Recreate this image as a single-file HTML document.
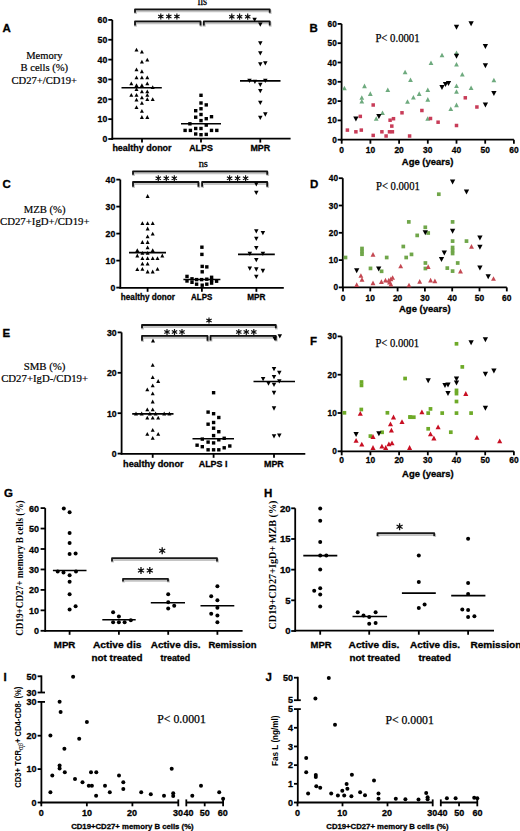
<!DOCTYPE html>
<html><head><meta charset="utf-8"><title>Figure</title>
<style>
html,body{margin:0;padding:0;background:#fff;}
body{width:520px;height:831px;overflow:hidden;}
svg{display:block;}
text{font-kerning:none;}
</style></head><body>
<svg width="520" height="831" viewBox="0 0 520 831">
<rect x="0" y="0" width="520" height="831" fill="#fff"/>
<text x="2.5" y="31.9" font-family="'Liberation Sans', sans-serif" font-size="11.5" font-weight="bold" text-anchor="start" fill="#000" stroke="#000" stroke-width="0.3">A</text>
<text x="44.3" y="58.8" font-family="'Liberation Serif', serif" font-size="11" text-anchor="middle" fill="#000" textLength="36.3" lengthAdjust="spacingAndGlyphs" stroke="#000" stroke-width="0.2">Memory</text>
<text x="44.3" y="71.3" font-family="'Liberation Serif', serif" font-size="11" text-anchor="middle" fill="#000" textLength="47.6" lengthAdjust="spacingAndGlyphs" stroke="#000" stroke-width="0.2">B cells (%)</text>
<text x="44.3" y="83.8" font-family="'Liberation Serif', serif" font-size="11" text-anchor="middle" fill="#000" textLength="65.5" lengthAdjust="spacingAndGlyphs" stroke="#000" stroke-width="0.2">CD27+/CD19+</text>
<line x1="112.3" y1="19.9" x2="112.3" y2="139.9" stroke="#000" stroke-width="1.8"/>
<line x1="108.3" y1="139" x2="112.3" y2="139" stroke="#000" stroke-width="1.8"/>
<text x="107.3" y="142.3" font-family="'Liberation Sans', sans-serif" font-size="9.2" font-weight="bold" text-anchor="end" fill="#000" textLength="4.85" lengthAdjust="spacingAndGlyphs" stroke="#000" stroke-width="0.3">0</text>
<line x1="108.3" y1="119.15" x2="112.3" y2="119.15" stroke="#000" stroke-width="1.8"/>
<text x="107.3" y="122.45" font-family="'Liberation Sans', sans-serif" font-size="9.2" font-weight="bold" text-anchor="end" fill="#000" textLength="9.7" lengthAdjust="spacingAndGlyphs" stroke="#000" stroke-width="0.3">10</text>
<line x1="108.3" y1="99.3" x2="112.3" y2="99.3" stroke="#000" stroke-width="1.8"/>
<text x="107.3" y="102.6" font-family="'Liberation Sans', sans-serif" font-size="9.2" font-weight="bold" text-anchor="end" fill="#000" textLength="9.7" lengthAdjust="spacingAndGlyphs" stroke="#000" stroke-width="0.3">20</text>
<line x1="108.3" y1="79.45" x2="112.3" y2="79.45" stroke="#000" stroke-width="1.8"/>
<text x="107.3" y="82.75" font-family="'Liberation Sans', sans-serif" font-size="9.2" font-weight="bold" text-anchor="end" fill="#000" textLength="9.7" lengthAdjust="spacingAndGlyphs" stroke="#000" stroke-width="0.3">30</text>
<line x1="108.3" y1="59.6" x2="112.3" y2="59.6" stroke="#000" stroke-width="1.8"/>
<text x="107.3" y="62.9" font-family="'Liberation Sans', sans-serif" font-size="9.2" font-weight="bold" text-anchor="end" fill="#000" textLength="9.7" lengthAdjust="spacingAndGlyphs" stroke="#000" stroke-width="0.3">40</text>
<line x1="108.3" y1="39.75" x2="112.3" y2="39.75" stroke="#000" stroke-width="1.8"/>
<text x="107.3" y="43.05" font-family="'Liberation Sans', sans-serif" font-size="9.2" font-weight="bold" text-anchor="end" fill="#000" textLength="9.7" lengthAdjust="spacingAndGlyphs" stroke="#000" stroke-width="0.3">50</text>
<line x1="108.3" y1="19.9" x2="112.3" y2="19.9" stroke="#000" stroke-width="1.8"/>
<text x="107.3" y="23.2" font-family="'Liberation Sans', sans-serif" font-size="9.2" font-weight="bold" text-anchor="end" fill="#000" textLength="9.7" lengthAdjust="spacingAndGlyphs" stroke="#000" stroke-width="0.3">60</text>
<line x1="111.4" y1="138.6" x2="290.6" y2="138.6" stroke="#000" stroke-width="1.8"/>
<line x1="142" y1="138.6" x2="142" y2="142.6" stroke="#000" stroke-width="1.8"/>
<line x1="201" y1="138.6" x2="201" y2="142.6" stroke="#000" stroke-width="1.8"/>
<line x1="260.3" y1="138.6" x2="260.3" y2="142.6" stroke="#000" stroke-width="1.8"/>
<text x="142" y="150.8" font-family="'Liberation Sans', sans-serif" font-size="9" font-weight="bold" text-anchor="middle" fill="#000" textLength="59.2" lengthAdjust="spacingAndGlyphs" stroke="#000" stroke-width="0.3">healthy donor</text>
<text x="201" y="150.8" font-family="'Liberation Sans', sans-serif" font-size="9" font-weight="bold" text-anchor="middle" fill="#000" textLength="23.6" lengthAdjust="spacingAndGlyphs" stroke="#000" stroke-width="0.3">ALPS</text>
<text x="260.3" y="150.8" font-family="'Liberation Sans', sans-serif" font-size="9" font-weight="bold" text-anchor="middle" fill="#000" textLength="19.8" lengthAdjust="spacingAndGlyphs" stroke="#000" stroke-width="0.3">MPR</text>
<path d="M135.6,14 V10.9 H270.3 V14" fill="none" stroke="#c4c4c4" stroke-width="2.6" stroke-linejoin="round"/>
<path d="M135,12.8 V9.3 H269.7 V12.8" fill="none" stroke="#111" stroke-width="1.8" stroke-linejoin="round"/>
<path d="M135.6,26.7 V22.9 H201.1 V26.7" fill="none" stroke="#c4c4c4" stroke-width="2.6" stroke-linejoin="round"/>
<path d="M135,25.5 V21.3 H200.5 V25.5" fill="none" stroke="#111" stroke-width="1.8" stroke-linejoin="round"/>
<path d="M204.4,26.7 V22.9 H270.3 V26.7" fill="none" stroke="#c4c4c4" stroke-width="2.6" stroke-linejoin="round"/>
<path d="M203.8,25.5 V21.3 H269.7 V25.5" fill="none" stroke="#111" stroke-width="1.8" stroke-linejoin="round"/>
<text x="202.4" y="5.1" font-family="'Liberation Serif', serif" font-size="11.6" text-anchor="middle" fill="#000" textLength="9.2" lengthAdjust="spacingAndGlyphs" stroke="#000" stroke-width="0.3">ns</text>
<path d="M160.8,13.4 L160.8,19.6 M163.48,14.95 L158.12,18.05 M163.48,18.05 L158.12,14.95 " stroke="#111" stroke-width="1.15" stroke-linecap="butt"/>
<circle cx="160.8" cy="16.5" r="1.24" fill="#111"/>
<path d="M168.8,13.4 L168.8,19.6 M171.48,14.95 L166.12,18.05 M171.48,18.05 L166.12,14.95 " stroke="#111" stroke-width="1.15" stroke-linecap="butt"/>
<circle cx="168.8" cy="16.5" r="1.24" fill="#111"/>
<path d="M176.9,13.4 L176.9,19.6 M179.58,14.95 L174.22,18.05 M179.58,18.05 L174.22,14.95 " stroke="#111" stroke-width="1.15" stroke-linecap="butt"/>
<circle cx="176.9" cy="16.5" r="1.24" fill="#111"/>
<path d="M231.8,13.6 L231.8,19.8 M234.48,15.15 L229.12,18.25 M234.48,18.25 L229.12,15.15 " stroke="#111" stroke-width="1.15" stroke-linecap="butt"/>
<circle cx="231.8" cy="16.7" r="1.24" fill="#111"/>
<path d="M239.6,13.6 L239.6,19.8 M242.28,15.15 L236.92,18.25 M242.28,18.25 L236.92,15.15 " stroke="#111" stroke-width="1.15" stroke-linecap="butt"/>
<circle cx="239.6" cy="16.7" r="1.24" fill="#111"/>
<path d="M247.7,13.6 L247.7,19.8 M250.38,15.15 L245.02,18.25 M250.38,18.25 L245.02,15.15 " stroke="#111" stroke-width="1.15" stroke-linecap="butt"/>
<circle cx="247.7" cy="16.7" r="1.24" fill="#111"/>
<polygon points="134.5,51.5 138.5,51.5 136.5,47.7" fill="#000"/>
<polygon points="139.9,53.6 143.9,53.6 141.9,49.8" fill="#000"/>
<polygon points="145.3,61.6 149.3,61.6 147.3,57.8" fill="#000"/>
<polygon points="139.9,63.5 143.9,63.5 141.9,59.7" fill="#000"/>
<polygon points="134.5,71.2 138.5,71.2 136.5,67.4" fill="#000"/>
<polygon points="139.9,73.15 143.9,73.15 141.9,69.35" fill="#000"/>
<polygon points="134.5,79.2 138.5,79.2 136.5,75.4" fill="#000"/>
<polygon points="139.9,79.2 143.9,79.2 141.9,75.4" fill="#000"/>
<polygon points="145.3,79.2 149.3,79.2 147.3,75.4" fill="#000"/>
<polygon points="129.3,85.2 133.3,85.2 131.3,81.4" fill="#000"/>
<polygon points="145.3,85.2 149.3,85.2 147.3,81.4" fill="#000"/>
<polygon points="134.5,87.1 138.5,87.1 136.5,83.3" fill="#000"/>
<polygon points="139.9,87.1 143.9,87.1 141.9,83.3" fill="#000"/>
<polygon points="150.7,89 154.7,89 152.7,85.2" fill="#000"/>
<polygon points="134.5,91 138.5,91 136.5,87.2" fill="#000"/>
<polygon points="139.9,93.2 143.9,93.2 141.9,89.4" fill="#000"/>
<polygon points="145.3,93.2 149.3,93.2 147.3,89.4" fill="#000"/>
<polygon points="129.3,96.8 133.3,96.8 131.3,93" fill="#000"/>
<polygon points="134.5,96.8 138.5,96.8 136.5,93" fill="#000"/>
<polygon points="145.3,96.8 149.3,96.8 147.3,93" fill="#000"/>
<polygon points="139.9,99.2 143.9,99.2 141.9,95.4" fill="#000"/>
<polygon points="134.5,101.6 138.5,101.6 136.5,97.8" fill="#000"/>
<polygon points="145.3,101.1 149.3,101.1 147.3,97.3" fill="#000"/>
<polygon points="150.7,101.1 154.7,101.1 152.7,97.3" fill="#000"/>
<polygon points="139.9,104.8 143.9,104.8 141.9,101" fill="#000"/>
<polygon points="134.5,109.1 138.5,109.1 136.5,105.3" fill="#000"/>
<polygon points="139.9,112.7 143.9,112.7 141.9,108.9" fill="#000"/>
<polygon points="139.9,118.9 143.9,118.9 141.9,115.1" fill="#000"/>
<polygon points="145.3,118.9 149.3,118.9 147.3,115.1" fill="#000"/>
<line x1="121.5" y1="87.8" x2="161.8" y2="87.8" stroke="#000" stroke-width="1.6"/>
<rect x="199.3" y="93.6" width="3.4" height="3.4" fill="#000"/>
<rect x="199.3" y="101.3" width="3.4" height="3.4" fill="#000"/>
<rect x="204.55" y="103.2" width="3.4" height="3.4" fill="#000"/>
<rect x="194" y="109" width="3.4" height="3.4" fill="#000"/>
<rect x="199.3" y="107.05" width="3.4" height="3.4" fill="#000"/>
<rect x="199.3" y="112.8" width="3.4" height="3.4" fill="#000"/>
<rect x="209.8" y="115" width="3.4" height="3.4" fill="#000"/>
<rect x="194" y="115.5" width="3.4" height="3.4" fill="#000"/>
<rect x="204.55" y="117" width="3.4" height="3.4" fill="#000"/>
<rect x="199.3" y="118.9" width="3.4" height="3.4" fill="#000"/>
<rect x="188.2" y="122.1" width="3.4" height="3.4" fill="#000"/>
<rect x="204.55" y="123.4" width="3.4" height="3.4" fill="#000"/>
<rect x="183.4" y="128.7" width="3.4" height="3.4" fill="#000"/>
<rect x="188.7" y="128.7" width="3.4" height="3.4" fill="#000"/>
<rect x="194" y="126.8" width="3.4" height="3.4" fill="#000"/>
<rect x="199.3" y="126.8" width="3.4" height="3.4" fill="#000"/>
<rect x="209.8" y="128.7" width="3.4" height="3.4" fill="#000"/>
<rect x="215.1" y="128.7" width="3.4" height="3.4" fill="#000"/>
<rect x="194" y="132.3" width="3.4" height="3.4" fill="#000"/>
<rect x="199.3" y="133" width="3.4" height="3.4" fill="#000"/>
<rect x="204.55" y="132.7" width="3.4" height="3.4" fill="#000"/>
<line x1="181" y1="123.8" x2="221" y2="123.8" stroke="#000" stroke-width="1.6"/>
<polygon points="252.35,17.76 256.85,17.76 254.6,22.04" fill="#000"/>
<polygon points="258.05,22.46 262.55,22.46 260.3,26.74" fill="#000"/>
<polygon points="258.05,41.26 262.55,41.26 260.3,45.54" fill="#000"/>
<polygon points="258.05,51.16 262.55,51.16 260.3,55.44" fill="#000"/>
<polygon points="258.05,62.26 262.55,62.26 260.3,66.54" fill="#000"/>
<polygon points="263.05,61.16 267.55,61.16 265.3,65.44" fill="#000"/>
<polygon points="247.25,78.76 251.75,78.76 249.5,83.04" fill="#000"/>
<polygon points="252.65,79.66 257.15,79.66 254.9,83.94" fill="#000"/>
<polygon points="263.05,78.76 267.55,78.76 265.3,83.04" fill="#000"/>
<polygon points="258.05,82.76 262.55,82.76 260.3,87.04" fill="#000"/>
<polygon points="258.05,89.06 262.55,89.06 260.3,93.34" fill="#000"/>
<polygon points="258.05,100.66 262.55,100.66 260.3,104.94" fill="#000"/>
<polygon points="263.05,112.36 267.55,112.36 265.3,116.64" fill="#000"/>
<polygon points="258.05,115.76 262.55,115.76 260.3,120.04" fill="#000"/>
<line x1="240" y1="80.9" x2="280.5" y2="80.9" stroke="#000" stroke-width="1.6"/>
<text x="309.6" y="32.3" font-family="'Liberation Sans', sans-serif" font-size="11.5" font-weight="bold" text-anchor="start" fill="#000" stroke="#000" stroke-width="0.3">B</text>
<line x1="341.6" y1="23.9" x2="341.6" y2="140.6" stroke="#000" stroke-width="1.8"/>
<line x1="337.6" y1="139.7" x2="341.6" y2="139.7" stroke="#000" stroke-width="1.8"/>
<text x="336.8" y="142.7" font-family="'Liberation Sans', sans-serif" font-size="9.3" font-weight="bold" text-anchor="end" fill="#000" textLength="4.6" lengthAdjust="spacingAndGlyphs" stroke="#000" stroke-width="0.3">0</text>
<line x1="337.6" y1="120.4" x2="341.6" y2="120.4" stroke="#000" stroke-width="1.8"/>
<text x="336.8" y="123.4" font-family="'Liberation Sans', sans-serif" font-size="9.3" font-weight="bold" text-anchor="end" fill="#000" textLength="9.2" lengthAdjust="spacingAndGlyphs" stroke="#000" stroke-width="0.3">10</text>
<line x1="337.6" y1="101.1" x2="341.6" y2="101.1" stroke="#000" stroke-width="1.8"/>
<text x="336.8" y="104.1" font-family="'Liberation Sans', sans-serif" font-size="9.3" font-weight="bold" text-anchor="end" fill="#000" textLength="9.2" lengthAdjust="spacingAndGlyphs" stroke="#000" stroke-width="0.3">20</text>
<line x1="337.6" y1="81.8" x2="341.6" y2="81.8" stroke="#000" stroke-width="1.8"/>
<text x="336.8" y="84.8" font-family="'Liberation Sans', sans-serif" font-size="9.3" font-weight="bold" text-anchor="end" fill="#000" textLength="9.2" lengthAdjust="spacingAndGlyphs" stroke="#000" stroke-width="0.3">30</text>
<line x1="337.6" y1="62.5" x2="341.6" y2="62.5" stroke="#000" stroke-width="1.8"/>
<text x="336.8" y="65.5" font-family="'Liberation Sans', sans-serif" font-size="9.3" font-weight="bold" text-anchor="end" fill="#000" textLength="9.2" lengthAdjust="spacingAndGlyphs" stroke="#000" stroke-width="0.3">40</text>
<line x1="337.6" y1="43.2" x2="341.6" y2="43.2" stroke="#000" stroke-width="1.8"/>
<text x="336.8" y="46.2" font-family="'Liberation Sans', sans-serif" font-size="9.3" font-weight="bold" text-anchor="end" fill="#000" textLength="9.2" lengthAdjust="spacingAndGlyphs" stroke="#000" stroke-width="0.3">50</text>
<line x1="337.6" y1="23.9" x2="341.6" y2="23.9" stroke="#000" stroke-width="1.8"/>
<text x="336.8" y="26.9" font-family="'Liberation Sans', sans-serif" font-size="9.3" font-weight="bold" text-anchor="end" fill="#000" textLength="9.2" lengthAdjust="spacingAndGlyphs" stroke="#000" stroke-width="0.3">60</text>
<line x1="340.7" y1="139.7" x2="513.9" y2="139.7" stroke="#000" stroke-width="1.8"/>
<line x1="341.7" y1="139.7" x2="341.7" y2="143.7" stroke="#000" stroke-width="1.8"/>
<line x1="370.4" y1="139.7" x2="370.4" y2="143.7" stroke="#000" stroke-width="1.8"/>
<line x1="399.1" y1="139.7" x2="399.1" y2="143.7" stroke="#000" stroke-width="1.8"/>
<line x1="427.8" y1="139.7" x2="427.8" y2="143.7" stroke="#000" stroke-width="1.8"/>
<line x1="456.5" y1="139.7" x2="456.5" y2="143.7" stroke="#000" stroke-width="1.8"/>
<line x1="485.2" y1="139.7" x2="485.2" y2="143.7" stroke="#000" stroke-width="1.8"/>
<line x1="513.9" y1="139.7" x2="513.9" y2="143.7" stroke="#000" stroke-width="1.8"/>
<text x="341.7" y="152.8" font-family="'Liberation Sans', sans-serif" font-size="9.5" font-weight="bold" text-anchor="middle" fill="#000" textLength="4.7" lengthAdjust="spacingAndGlyphs" stroke="#000" stroke-width="0.3">0</text>
<text x="370.4" y="152.8" font-family="'Liberation Sans', sans-serif" font-size="9.5" font-weight="bold" text-anchor="middle" fill="#000" textLength="9.4" lengthAdjust="spacingAndGlyphs" stroke="#000" stroke-width="0.3">10</text>
<text x="399.1" y="152.8" font-family="'Liberation Sans', sans-serif" font-size="9.5" font-weight="bold" text-anchor="middle" fill="#000" textLength="9.4" lengthAdjust="spacingAndGlyphs" stroke="#000" stroke-width="0.3">20</text>
<text x="427.8" y="152.8" font-family="'Liberation Sans', sans-serif" font-size="9.5" font-weight="bold" text-anchor="middle" fill="#000" textLength="9.4" lengthAdjust="spacingAndGlyphs" stroke="#000" stroke-width="0.3">30</text>
<text x="456.5" y="152.8" font-family="'Liberation Sans', sans-serif" font-size="9.5" font-weight="bold" text-anchor="middle" fill="#000" textLength="9.4" lengthAdjust="spacingAndGlyphs" stroke="#000" stroke-width="0.3">40</text>
<text x="485.2" y="152.8" font-family="'Liberation Sans', sans-serif" font-size="9.5" font-weight="bold" text-anchor="middle" fill="#000" textLength="9.4" lengthAdjust="spacingAndGlyphs" stroke="#000" stroke-width="0.3">50</text>
<text x="513.9" y="152.8" font-family="'Liberation Sans', sans-serif" font-size="9.5" font-weight="bold" text-anchor="middle" fill="#000" textLength="9.4" lengthAdjust="spacingAndGlyphs" stroke="#000" stroke-width="0.3">60</text>
<text x="427.6" y="164.8" font-family="'Liberation Sans', sans-serif" font-size="9.6" font-weight="bold" text-anchor="middle" fill="#000" textLength="51.6" lengthAdjust="spacingAndGlyphs" stroke="#000" stroke-width="0.3">Age (years)</text>
<text x="375.4" y="42.3" font-family="'Liberation Serif', serif" font-size="11.8" text-anchor="start" fill="#000" textLength="44.2" lengthAdjust="spacingAndGlyphs" stroke="#000" stroke-width="0.25">P&lt; 0.0001</text>
<polygon points="342,90.28 346.8,90.28 344.4,85.72" fill="#6eaa7e"/>
<polygon points="362.1,88.18 366.9,88.18 364.5,83.62" fill="#6eaa7e"/>
<polygon points="359.4,99.78 364.2,99.78 361.8,95.22" fill="#6eaa7e"/>
<polygon points="359.4,103.58 364.2,103.58 361.8,99.02" fill="#6eaa7e"/>
<polygon points="367.9,95.88 372.7,95.88 370.3,91.32" fill="#6eaa7e"/>
<polygon points="385.4,92.08 390.2,92.08 387.8,87.52" fill="#6eaa7e"/>
<polygon points="405.1,103.78 409.9,103.78 407.5,99.22" fill="#6eaa7e"/>
<polygon points="380.1,115.08 384.9,115.08 382.5,110.52" fill="#6eaa7e"/>
<polygon points="373.8,120.78 378.6,120.78 376.2,116.22" fill="#6eaa7e"/>
<polygon points="439.6,57.28 444.4,57.28 442,52.72" fill="#6eaa7e"/>
<polygon points="454.1,54.98 458.9,54.98 456.5,50.42" fill="#6eaa7e"/>
<polygon points="428.6,65.08 433.4,65.08 431,60.52" fill="#6eaa7e"/>
<polygon points="454.1,66.48 458.9,66.48 456.5,61.92" fill="#6eaa7e"/>
<polygon points="402.7,74.28 407.5,74.28 405.1,69.72" fill="#6eaa7e"/>
<polygon points="459.9,76.48 464.7,76.48 462.3,71.92" fill="#6eaa7e"/>
<polygon points="408.1,82.08 412.9,82.08 410.5,77.52" fill="#6eaa7e"/>
<polygon points="491.5,82.28 496.3,82.28 493.9,77.72" fill="#6eaa7e"/>
<polygon points="454.1,88.08 458.9,88.08 456.5,83.52" fill="#6eaa7e"/>
<polygon points="468.7,90.08 473.5,90.08 471.1,85.52" fill="#6eaa7e"/>
<polygon points="425.4,92.08 430.2,92.08 427.8,87.52" fill="#6eaa7e"/>
<polygon points="416.8,95.88 421.6,95.88 419.2,91.32" fill="#6eaa7e"/>
<polygon points="411,99.58 415.8,99.58 413.4,95.02" fill="#6eaa7e"/>
<polygon points="425.4,101.68 430.2,101.68 427.8,97.12" fill="#6eaa7e"/>
<polygon points="454.1,93.78 458.9,93.78 456.5,89.22" fill="#6eaa7e"/>
<polygon points="454.1,107.18 458.9,107.18 456.5,102.62" fill="#6eaa7e"/>
<polygon points="448.4,111.08 453.2,111.08 450.8,106.52" fill="#6eaa7e"/>
<polygon points="425.3,120.78 430.1,120.78 427.7,116.22" fill="#6eaa7e"/>
<rect x="345.65" y="128.35" width="3.5" height="3.5" fill="#c83c58"/>
<rect x="354.15" y="130.05" width="3.5" height="3.5" fill="#c83c58"/>
<rect x="359.55" y="128.35" width="3.5" height="3.5" fill="#c83c58"/>
<rect x="358.55" y="114.65" width="3.5" height="3.5" fill="#c83c58"/>
<rect x="371.45" y="103.25" width="3.5" height="3.5" fill="#c83c58"/>
<rect x="371.45" y="133.65" width="3.5" height="3.5" fill="#c83c58"/>
<rect x="380.15" y="130.05" width="3.5" height="3.5" fill="#c83c58"/>
<rect x="384.35" y="134.25" width="3.5" height="3.5" fill="#c83c58"/>
<rect x="388.35" y="118.45" width="3.5" height="3.5" fill="#c83c58"/>
<rect x="391.75" y="116.95" width="3.5" height="3.5" fill="#c83c58"/>
<rect x="390.05" y="124.35" width="3.5" height="3.5" fill="#c83c58"/>
<rect x="387.75" y="130.05" width="3.5" height="3.5" fill="#c83c58"/>
<rect x="390.65" y="130.05" width="3.5" height="3.5" fill="#c83c58"/>
<rect x="400.25" y="111.05" width="3.5" height="3.5" fill="#c83c58"/>
<rect x="407.85" y="134.25" width="3.5" height="3.5" fill="#c83c58"/>
<rect x="420.15" y="108.75" width="3.5" height="3.5" fill="#c83c58"/>
<rect x="463.55" y="96.05" width="3.5" height="3.5" fill="#c83c58"/>
<rect x="475.15" y="105.25" width="3.5" height="3.5" fill="#c83c58"/>
<rect x="428.75" y="116.75" width="3.5" height="3.5" fill="#c83c58"/>
<rect x="436.35" y="120.45" width="3.5" height="3.5" fill="#c83c58"/>
<rect x="454.75" y="123.75" width="3.5" height="3.5" fill="#c83c58"/>
<polygon points="353.25,116.58 358.55,116.58 355.9,121.62" fill="#000"/>
<polygon points="376.25,113.88 381.55,113.88 378.9,118.92" fill="#000"/>
<polygon points="453.85,24.78 459.15,24.78 456.5,29.82" fill="#000"/>
<polygon points="468.45,21.28 473.75,21.28 471.1,26.32" fill="#000"/>
<polygon points="482.75,43.98 488.05,43.98 485.4,49.02" fill="#000"/>
<polygon points="453.85,53.68 459.15,53.68 456.5,58.72" fill="#000"/>
<polygon points="482.75,63.28 488.05,63.28 485.4,68.32" fill="#000"/>
<polygon points="439.35,84.98 444.65,84.98 442,90.02" fill="#000"/>
<polygon points="442.85,82.08 448.15,82.08 445.5,87.12" fill="#000"/>
<polygon points="445.85,80.88 451.15,80.88 448.5,85.92" fill="#000"/>
<polygon points="491.25,90.88 496.55,90.88 493.9,95.92" fill="#000"/>
<polygon points="482.75,102.38 488.05,102.38 485.4,107.42" fill="#000"/>
<text x="2.5" y="188.2" font-family="'Liberation Sans', sans-serif" font-size="11.5" font-weight="bold" text-anchor="start" fill="#000" stroke="#000" stroke-width="0.3">C</text>
<text x="44.6" y="212.9" font-family="'Liberation Serif', serif" font-size="11" text-anchor="middle" fill="#000" textLength="41.8" lengthAdjust="spacingAndGlyphs" stroke="#000" stroke-width="0.2">MZB (%)</text>
<text x="44.75" y="225" font-family="'Liberation Serif', serif" font-size="11" text-anchor="middle" fill="#000" textLength="89.5" lengthAdjust="spacingAndGlyphs" stroke="#000" stroke-width="0.2">CD27+IgD+/CD19+</text>
<line x1="120.3" y1="179.6" x2="120.3" y2="288.5" stroke="#000" stroke-width="1.8"/>
<line x1="116.3" y1="287.6" x2="120.3" y2="287.6" stroke="#000" stroke-width="1.8"/>
<text x="115.3" y="290.9" font-family="'Liberation Sans', sans-serif" font-size="9.2" font-weight="bold" text-anchor="end" fill="#000" textLength="4.85" lengthAdjust="spacingAndGlyphs" stroke="#000" stroke-width="0.3">0</text>
<line x1="116.3" y1="260.6" x2="120.3" y2="260.6" stroke="#000" stroke-width="1.8"/>
<text x="115.3" y="263.9" font-family="'Liberation Sans', sans-serif" font-size="9.2" font-weight="bold" text-anchor="end" fill="#000" textLength="9.7" lengthAdjust="spacingAndGlyphs" stroke="#000" stroke-width="0.3">10</text>
<line x1="116.3" y1="233.6" x2="120.3" y2="233.6" stroke="#000" stroke-width="1.8"/>
<text x="115.3" y="236.9" font-family="'Liberation Sans', sans-serif" font-size="9.2" font-weight="bold" text-anchor="end" fill="#000" textLength="9.7" lengthAdjust="spacingAndGlyphs" stroke="#000" stroke-width="0.3">20</text>
<line x1="116.3" y1="206.6" x2="120.3" y2="206.6" stroke="#000" stroke-width="1.8"/>
<text x="115.3" y="209.9" font-family="'Liberation Sans', sans-serif" font-size="9.2" font-weight="bold" text-anchor="end" fill="#000" textLength="9.7" lengthAdjust="spacingAndGlyphs" stroke="#000" stroke-width="0.3">30</text>
<line x1="116.3" y1="179.6" x2="120.3" y2="179.6" stroke="#000" stroke-width="1.8"/>
<text x="115.3" y="182.9" font-family="'Liberation Sans', sans-serif" font-size="9.2" font-weight="bold" text-anchor="end" fill="#000" textLength="9.7" lengthAdjust="spacingAndGlyphs" stroke="#000" stroke-width="0.3">40</text>
<line x1="119.4" y1="287.8" x2="283.8" y2="287.8" stroke="#000" stroke-width="1.8"/>
<line x1="147.6" y1="287.8" x2="147.6" y2="291.8" stroke="#000" stroke-width="1.8"/>
<line x1="201.9" y1="287.8" x2="201.9" y2="291.8" stroke="#000" stroke-width="1.8"/>
<line x1="256.4" y1="287.8" x2="256.4" y2="291.8" stroke="#000" stroke-width="1.8"/>
<text x="147.85" y="300.4" font-family="'Liberation Sans', sans-serif" font-size="9" font-weight="bold" text-anchor="middle" fill="#000" textLength="54.1" lengthAdjust="spacingAndGlyphs" stroke="#000" stroke-width="0.3">healthy donor</text>
<text x="201.7" y="300.2" font-family="'Liberation Sans', sans-serif" font-size="9" font-weight="bold" text-anchor="middle" fill="#000" textLength="21.2" lengthAdjust="spacingAndGlyphs" stroke="#000" stroke-width="0.3">ALPS</text>
<text x="256.4" y="300.2" font-family="'Liberation Sans', sans-serif" font-size="9" font-weight="bold" text-anchor="middle" fill="#000" textLength="18.2" lengthAdjust="spacingAndGlyphs" stroke="#000" stroke-width="0.3">MPR</text>
<path d="M133.6,176 V172.9 H267.8 V176" fill="none" stroke="#c4c4c4" stroke-width="2.6" stroke-linejoin="round"/>
<path d="M133,174.8 V171.3 H267.2 V174.8" fill="none" stroke="#111" stroke-width="1.8" stroke-linejoin="round"/>
<path d="M133.6,188 V183.6 H199 V188" fill="none" stroke="#c4c4c4" stroke-width="2.6" stroke-linejoin="round"/>
<path d="M133,186.8 V182 H198.4 V186.8" fill="none" stroke="#111" stroke-width="1.8" stroke-linejoin="round"/>
<path d="M202.7,188 V183.6 H267.8 V188" fill="none" stroke="#c4c4c4" stroke-width="2.6" stroke-linejoin="round"/>
<path d="M202.1,186.8 V182 H267.2 V186.8" fill="none" stroke="#111" stroke-width="1.8" stroke-linejoin="round"/>
<text x="203.3" y="167.2" font-family="'Liberation Serif', serif" font-size="11" text-anchor="middle" fill="#000" textLength="9.3" lengthAdjust="spacingAndGlyphs" stroke="#000" stroke-width="0.3">ns</text>
<path d="M158.3,175.2 L158.3,181.4 M160.98,176.75 L155.62,179.85 M160.98,179.85 L155.62,176.75 " stroke="#111" stroke-width="1.15" stroke-linecap="butt"/>
<circle cx="158.3" cy="178.3" r="1.24" fill="#111"/>
<path d="M166.3,175.2 L166.3,181.4 M168.98,176.75 L163.62,179.85 M168.98,179.85 L163.62,176.75 " stroke="#111" stroke-width="1.15" stroke-linecap="butt"/>
<circle cx="166.3" cy="178.3" r="1.24" fill="#111"/>
<path d="M174.3,175.2 L174.3,181.4 M176.98,176.75 L171.62,179.85 M176.98,179.85 L171.62,176.75 " stroke="#111" stroke-width="1.15" stroke-linecap="butt"/>
<circle cx="174.3" cy="178.3" r="1.24" fill="#111"/>
<path d="M229.6,175.2 L229.6,181.4 M232.28,176.75 L226.92,179.85 M232.28,179.85 L226.92,176.75 " stroke="#111" stroke-width="1.15" stroke-linecap="butt"/>
<circle cx="229.6" cy="178.3" r="1.24" fill="#111"/>
<path d="M237.6,175.2 L237.6,181.4 M240.28,176.75 L234.92,179.85 M240.28,179.85 L234.92,176.75 " stroke="#111" stroke-width="1.15" stroke-linecap="butt"/>
<circle cx="237.6" cy="178.3" r="1.24" fill="#111"/>
<path d="M245.6,175.2 L245.6,181.4 M248.28,176.75 L242.92,179.85 M248.28,179.85 L242.92,176.75 " stroke="#111" stroke-width="1.15" stroke-linecap="butt"/>
<circle cx="245.6" cy="178.3" r="1.24" fill="#111"/>
<polygon points="145.6,197.9 149.6,197.9 147.6,194.1" fill="#000"/>
<polygon points="140.4,225.1 144.4,225.1 142.4,221.3" fill="#000"/>
<polygon points="145.6,225.1 149.6,225.1 147.6,221.3" fill="#000"/>
<polygon points="150.7,225.1 154.7,225.1 152.7,221.3" fill="#000"/>
<polygon points="145.6,230.4 149.6,230.4 147.6,226.6" fill="#000"/>
<polygon points="150.7,235.6 154.7,235.6 152.7,231.8" fill="#000"/>
<polygon points="145.6,238.3 149.6,238.3 147.6,234.5" fill="#000"/>
<polygon points="140.4,243.9 144.4,243.9 142.4,240.1" fill="#000"/>
<polygon points="145.6,243.9 149.6,243.9 147.6,240.1" fill="#000"/>
<polygon points="145.6,249.2 149.6,249.2 147.6,245.4" fill="#000"/>
<polygon points="135.3,252.1 139.3,252.1 137.3,248.3" fill="#000"/>
<polygon points="150.7,252.1 154.7,252.1 152.7,248.3" fill="#000"/>
<polygon points="140.4,254.8 144.4,254.8 142.4,251" fill="#000"/>
<polygon points="145.6,254.8 149.6,254.8 147.6,251" fill="#000"/>
<polygon points="135.3,257.4 139.3,257.4 137.3,253.6" fill="#000"/>
<polygon points="160.3,257.4 164.3,257.4 162.3,253.6" fill="#000"/>
<polygon points="140.4,260.1 144.4,260.1 142.4,256.3" fill="#000"/>
<polygon points="145.6,260.1 149.6,260.1 147.6,256.3" fill="#000"/>
<polygon points="150.7,260.1 154.7,260.1 152.7,256.3" fill="#000"/>
<polygon points="155.5,260.1 159.5,260.1 157.5,256.3" fill="#000"/>
<polygon points="140.4,265.6 144.4,265.6 142.4,261.8" fill="#000"/>
<polygon points="145.6,265.6 149.6,265.6 147.6,261.8" fill="#000"/>
<polygon points="135.3,271.1 139.3,271.1 137.3,267.3" fill="#000"/>
<polygon points="140.4,270.8 144.4,270.8 142.4,267" fill="#000"/>
<polygon points="155.5,270.8 159.5,270.8 157.5,267" fill="#000"/>
<polygon points="145.6,273.4 149.6,273.4 147.6,269.6" fill="#000"/>
<polygon points="150.7,273.4 154.7,273.4 152.7,269.6" fill="#000"/>
<line x1="129" y1="252.6" x2="166" y2="252.6" stroke="#000" stroke-width="1.6"/>
<rect x="200.2" y="245.5" width="3.4" height="3.4" fill="#000"/>
<rect x="200.2" y="252.7" width="3.4" height="3.4" fill="#000"/>
<rect x="200.5" y="264.7" width="3.4" height="3.4" fill="#000"/>
<rect x="205.1" y="265.2" width="3.4" height="3.4" fill="#000"/>
<rect x="200.5" y="270.1" width="3.4" height="3.4" fill="#000"/>
<rect x="185.3" y="274.7" width="3.4" height="3.4" fill="#000"/>
<rect x="209.9" y="275.6" width="3.4" height="3.4" fill="#000"/>
<rect x="185.3" y="279.3" width="3.4" height="3.4" fill="#000"/>
<rect x="190.3" y="277.1" width="3.4" height="3.4" fill="#000"/>
<rect x="190.3" y="280.6" width="3.4" height="3.4" fill="#000"/>
<rect x="194.9" y="277.9" width="3.4" height="3.4" fill="#000"/>
<rect x="199.9" y="277.9" width="3.4" height="3.4" fill="#000"/>
<rect x="205.1" y="277.5" width="3.4" height="3.4" fill="#000"/>
<rect x="209.9" y="278.7" width="3.4" height="3.4" fill="#000"/>
<rect x="214.9" y="279.5" width="3.4" height="3.4" fill="#000"/>
<rect x="194.9" y="282.5" width="3.4" height="3.4" fill="#000"/>
<rect x="200.5" y="283.5" width="3.4" height="3.4" fill="#000"/>
<rect x="205.1" y="282.5" width="3.4" height="3.4" fill="#000"/>
<rect x="209.9" y="281.4" width="3.4" height="3.4" fill="#000"/>
<line x1="183.4" y1="279.5" x2="220.4" y2="279.5" stroke="#000" stroke-width="1.6"/>
<polygon points="254.05,182.26 258.55,182.26 256.3,186.54" fill="#000"/>
<polygon points="254.05,190.76 258.55,190.76 256.3,195.04" fill="#000"/>
<polygon points="254.05,229.16 258.55,229.16 256.3,233.44" fill="#000"/>
<polygon points="260.65,230.96 265.15,230.96 262.9,235.24" fill="#000"/>
<polygon points="254.05,236.66 258.55,236.66 256.3,240.94" fill="#000"/>
<polygon points="254.05,245.96 258.55,245.96 256.3,250.24" fill="#000"/>
<polygon points="247.55,251.66 252.05,251.66 249.8,255.94" fill="#000"/>
<polygon points="260.65,251.66 265.15,251.66 262.9,255.94" fill="#000"/>
<polygon points="254.05,258.06 258.55,258.06 256.3,262.34" fill="#000"/>
<polygon points="247.55,266.46 252.05,266.46 249.8,270.74" fill="#000"/>
<polygon points="254.05,267.36 258.55,267.36 256.3,271.64" fill="#000"/>
<polygon points="260.65,268.86 265.15,268.86 262.9,273.14" fill="#000"/>
<polygon points="254.05,274.76 258.55,274.76 256.3,279.04" fill="#000"/>
<line x1="238" y1="254.4" x2="274.8" y2="254.4" stroke="#000" stroke-width="1.6"/>
<text x="310" y="187.9" font-family="'Liberation Sans', sans-serif" font-size="11.5" font-weight="bold" text-anchor="start" fill="#000" stroke="#000" stroke-width="0.3">D</text>
<line x1="342.8" y1="178.2" x2="342.8" y2="288.3" stroke="#000" stroke-width="1.8"/>
<line x1="338.8" y1="287.4" x2="342.8" y2="287.4" stroke="#000" stroke-width="1.8"/>
<text x="338" y="290.4" font-family="'Liberation Sans', sans-serif" font-size="9.3" font-weight="bold" text-anchor="end" fill="#000" textLength="4.6" lengthAdjust="spacingAndGlyphs" stroke="#000" stroke-width="0.3">0</text>
<line x1="338.8" y1="260.1" x2="342.8" y2="260.1" stroke="#000" stroke-width="1.8"/>
<text x="338" y="263.1" font-family="'Liberation Sans', sans-serif" font-size="9.3" font-weight="bold" text-anchor="end" fill="#000" textLength="9.2" lengthAdjust="spacingAndGlyphs" stroke="#000" stroke-width="0.3">10</text>
<line x1="338.8" y1="232.8" x2="342.8" y2="232.8" stroke="#000" stroke-width="1.8"/>
<text x="338" y="235.8" font-family="'Liberation Sans', sans-serif" font-size="9.3" font-weight="bold" text-anchor="end" fill="#000" textLength="9.2" lengthAdjust="spacingAndGlyphs" stroke="#000" stroke-width="0.3">20</text>
<line x1="338.8" y1="205.5" x2="342.8" y2="205.5" stroke="#000" stroke-width="1.8"/>
<text x="338" y="208.5" font-family="'Liberation Sans', sans-serif" font-size="9.3" font-weight="bold" text-anchor="end" fill="#000" textLength="9.2" lengthAdjust="spacingAndGlyphs" stroke="#000" stroke-width="0.3">30</text>
<line x1="338.8" y1="178.2" x2="342.8" y2="178.2" stroke="#000" stroke-width="1.8"/>
<text x="338" y="181.2" font-family="'Liberation Sans', sans-serif" font-size="9.3" font-weight="bold" text-anchor="end" fill="#000" textLength="9.2" lengthAdjust="spacingAndGlyphs" stroke="#000" stroke-width="0.3">40</text>
<line x1="341.9" y1="287.4" x2="506.8" y2="287.4" stroke="#000" stroke-width="1.8"/>
<line x1="343" y1="287.4" x2="343" y2="291.4" stroke="#000" stroke-width="1.8"/>
<line x1="370.3" y1="287.4" x2="370.3" y2="291.4" stroke="#000" stroke-width="1.8"/>
<line x1="397.6" y1="287.4" x2="397.6" y2="291.4" stroke="#000" stroke-width="1.8"/>
<line x1="424.9" y1="287.4" x2="424.9" y2="291.4" stroke="#000" stroke-width="1.8"/>
<line x1="452.2" y1="287.4" x2="452.2" y2="291.4" stroke="#000" stroke-width="1.8"/>
<line x1="479.5" y1="287.4" x2="479.5" y2="291.4" stroke="#000" stroke-width="1.8"/>
<line x1="506.8" y1="287.4" x2="506.8" y2="291.4" stroke="#000" stroke-width="1.8"/>
<text x="343" y="300.6" font-family="'Liberation Sans', sans-serif" font-size="9.5" font-weight="bold" text-anchor="middle" fill="#000" textLength="4.7" lengthAdjust="spacingAndGlyphs" stroke="#000" stroke-width="0.3">0</text>
<text x="370.3" y="300.6" font-family="'Liberation Sans', sans-serif" font-size="9.5" font-weight="bold" text-anchor="middle" fill="#000" textLength="9.4" lengthAdjust="spacingAndGlyphs" stroke="#000" stroke-width="0.3">10</text>
<text x="397.6" y="300.6" font-family="'Liberation Sans', sans-serif" font-size="9.5" font-weight="bold" text-anchor="middle" fill="#000" textLength="9.4" lengthAdjust="spacingAndGlyphs" stroke="#000" stroke-width="0.3">20</text>
<text x="424.9" y="300.6" font-family="'Liberation Sans', sans-serif" font-size="9.5" font-weight="bold" text-anchor="middle" fill="#000" textLength="9.4" lengthAdjust="spacingAndGlyphs" stroke="#000" stroke-width="0.3">30</text>
<text x="452.2" y="300.6" font-family="'Liberation Sans', sans-serif" font-size="9.5" font-weight="bold" text-anchor="middle" fill="#000" textLength="9.4" lengthAdjust="spacingAndGlyphs" stroke="#000" stroke-width="0.3">40</text>
<text x="479.5" y="300.6" font-family="'Liberation Sans', sans-serif" font-size="9.5" font-weight="bold" text-anchor="middle" fill="#000" textLength="9.4" lengthAdjust="spacingAndGlyphs" stroke="#000" stroke-width="0.3">50</text>
<text x="506.8" y="300.6" font-family="'Liberation Sans', sans-serif" font-size="9.5" font-weight="bold" text-anchor="middle" fill="#000" textLength="9.4" lengthAdjust="spacingAndGlyphs" stroke="#000" stroke-width="0.3">60</text>
<text x="424.8" y="311.7" font-family="'Liberation Sans', sans-serif" font-size="9.6" font-weight="bold" text-anchor="middle" fill="#000" textLength="51.6" lengthAdjust="spacingAndGlyphs" stroke="#000" stroke-width="0.3">Age (years)</text>
<text x="376" y="190.3" font-family="'Liberation Serif', serif" font-size="11.8" text-anchor="start" fill="#000" textLength="43.8" lengthAdjust="spacingAndGlyphs" stroke="#000" stroke-width="0.25">P&lt; 0.0001</text>
<rect x="343.65" y="255.65" width="3.7" height="3.7" fill="#70a64a"/>
<rect x="360.15" y="246.65" width="3.7" height="3.7" fill="#70a64a"/>
<rect x="360.15" y="249.65" width="3.7" height="3.7" fill="#70a64a"/>
<rect x="360.15" y="252.35" width="3.7" height="3.7" fill="#70a64a"/>
<rect x="368.65" y="266.55" width="3.7" height="3.7" fill="#70a64a"/>
<rect x="384.85" y="255.65" width="3.7" height="3.7" fill="#70a64a"/>
<rect x="379.75" y="269.45" width="3.7" height="3.7" fill="#70a64a"/>
<rect x="401.45" y="244.65" width="3.7" height="3.7" fill="#70a64a"/>
<rect x="404.35" y="255.65" width="3.7" height="3.7" fill="#70a64a"/>
<rect x="409.65" y="252.55" width="3.7" height="3.7" fill="#70a64a"/>
<rect x="415.35" y="233.55" width="3.7" height="3.7" fill="#70a64a"/>
<rect x="423.45" y="225.45" width="3.7" height="3.7" fill="#70a64a"/>
<rect x="426.35" y="231.15" width="3.7" height="3.7" fill="#70a64a"/>
<rect x="436.95" y="192.35" width="3.7" height="3.7" fill="#70a64a"/>
<rect x="406.95" y="220.05" width="3.7" height="3.7" fill="#70a64a"/>
<rect x="450.75" y="220.05" width="3.7" height="3.7" fill="#70a64a"/>
<rect x="450.75" y="239.25" width="3.7" height="3.7" fill="#70a64a"/>
<rect x="450.75" y="245.65" width="3.7" height="3.7" fill="#70a64a"/>
<rect x="450.75" y="248.65" width="3.7" height="3.7" fill="#70a64a"/>
<rect x="450.75" y="251.65" width="3.7" height="3.7" fill="#70a64a"/>
<rect x="464.65" y="239.25" width="3.7" height="3.7" fill="#70a64a"/>
<rect x="423.55" y="261.15" width="3.7" height="3.7" fill="#70a64a"/>
<rect x="423.55" y="266.65" width="3.7" height="3.7" fill="#70a64a"/>
<rect x="455.85" y="261.15" width="3.7" height="3.7" fill="#70a64a"/>
<rect x="445.45" y="266.25" width="3.7" height="3.7" fill="#70a64a"/>
<rect x="450.75" y="269.25" width="3.7" height="3.7" fill="#70a64a"/>
<polygon points="370.55,256.63 375.45,256.63 373,251.97" fill="#c44852"/>
<polygon points="358.45,277.83 363.35,277.83 360.9,273.17" fill="#c44852"/>
<polygon points="359.55,281.63 364.45,281.63 362,276.97" fill="#c44852"/>
<polygon points="354.25,286.93 359.15,286.93 356.7,282.27" fill="#c44852"/>
<polygon points="370.55,285.23 375.45,285.23 373,280.57" fill="#c44852"/>
<polygon points="378.95,283.93 383.85,283.93 381.4,279.27" fill="#c44852"/>
<polygon points="383.05,282.53 387.95,282.53 385.5,277.87" fill="#c44852"/>
<polygon points="386.35,282.53 391.25,282.53 388.8,277.87" fill="#c44852"/>
<polygon points="388.45,281.13 393.35,281.13 390.9,276.47" fill="#c44852"/>
<polygon points="390.15,279.83 395.05,279.83 392.6,275.17" fill="#c44852"/>
<polygon points="387.05,284.53 391.95,284.53 389.5,279.87" fill="#c44852"/>
<polygon points="388.45,286.53 393.35,286.53 390.9,281.87" fill="#c44852"/>
<polygon points="398.25,268.33 403.15,268.33 400.7,263.67" fill="#c44852"/>
<polygon points="406.55,287.33 411.45,287.33 409,282.67" fill="#c44852"/>
<polygon points="417.25,283.63 422.15,283.63 419.7,278.97" fill="#c44852"/>
<polygon points="428.15,282.53 433.05,282.53 430.6,277.87" fill="#c44852"/>
<polygon points="432.45,283.23 437.35,283.23 434.9,278.57" fill="#c44852"/>
<polygon points="425.75,268.93 430.65,268.93 428.2,264.27" fill="#c44852"/>
<polygon points="458.05,273.43 462.95,273.43 460.5,268.77" fill="#c44852"/>
<polygon points="469.05,248.73 473.95,248.73 471.5,244.07" fill="#c44852"/>
<polygon points="491.05,280.83 495.95,280.83 493.5,276.17" fill="#c44852"/>
<polygon points="354.05,268.28 359.35,268.28 356.7,273.32" fill="#000"/>
<polygon points="376.05,266.58 381.35,266.58 378.7,271.62" fill="#000"/>
<polygon points="449.95,179.48 455.25,179.48 452.6,184.52" fill="#000"/>
<polygon points="463.85,189.38 469.15,189.38 466.5,194.42" fill="#000"/>
<polygon points="449.95,228.68 455.25,228.68 452.6,233.72" fill="#000"/>
<polygon points="422.65,230.28 427.95,230.28 425.3,235.32" fill="#000"/>
<polygon points="477.25,235.58 482.55,235.58 479.9,240.62" fill="#000"/>
<polygon points="477.25,244.78 482.55,244.78 479.9,249.82" fill="#000"/>
<polygon points="441.65,250.58 446.95,250.58 444.3,255.62" fill="#000"/>
<polygon points="438.85,256.98 444.15,256.98 441.5,262.02" fill="#000"/>
<polygon points="477.25,265.58 482.55,265.58 479.9,270.62" fill="#000"/>
<polygon points="485.55,274.28 490.85,274.28 488.2,279.32" fill="#000"/>
<text x="2.5" y="337.2" font-family="'Liberation Sans', sans-serif" font-size="11.5" font-weight="bold" text-anchor="start" fill="#000" stroke="#000" stroke-width="0.3">E</text>
<text x="44.6" y="370.2" font-family="'Liberation Serif', serif" font-size="11" text-anchor="middle" fill="#000" textLength="41.8" lengthAdjust="spacingAndGlyphs" stroke="#000" stroke-width="0.2">SMB (%)</text>
<text x="44.6" y="382.2" font-family="'Liberation Serif', serif" font-size="11" text-anchor="middle" fill="#000" textLength="86.8" lengthAdjust="spacingAndGlyphs" stroke="#000" stroke-width="0.2">CD27+IgD-/CD19+</text>
<line x1="121.6" y1="332.4" x2="121.6" y2="454.5" stroke="#000" stroke-width="1.8"/>
<line x1="117.6" y1="453.6" x2="121.6" y2="453.6" stroke="#000" stroke-width="1.8"/>
<text x="116.6" y="456.9" font-family="'Liberation Sans', sans-serif" font-size="9.2" font-weight="bold" text-anchor="end" fill="#000" textLength="4.85" lengthAdjust="spacingAndGlyphs" stroke="#000" stroke-width="0.3">0</text>
<line x1="117.6" y1="413.2" x2="121.6" y2="413.2" stroke="#000" stroke-width="1.8"/>
<text x="116.6" y="416.5" font-family="'Liberation Sans', sans-serif" font-size="9.2" font-weight="bold" text-anchor="end" fill="#000" textLength="9.7" lengthAdjust="spacingAndGlyphs" stroke="#000" stroke-width="0.3">10</text>
<line x1="117.6" y1="372.8" x2="121.6" y2="372.8" stroke="#000" stroke-width="1.8"/>
<text x="116.6" y="376.1" font-family="'Liberation Sans', sans-serif" font-size="9.2" font-weight="bold" text-anchor="end" fill="#000" textLength="9.7" lengthAdjust="spacingAndGlyphs" stroke="#000" stroke-width="0.3">20</text>
<line x1="117.6" y1="332.4" x2="121.6" y2="332.4" stroke="#000" stroke-width="1.8"/>
<text x="116.6" y="335.7" font-family="'Liberation Sans', sans-serif" font-size="9.2" font-weight="bold" text-anchor="end" fill="#000" textLength="9.7" lengthAdjust="spacingAndGlyphs" stroke="#000" stroke-width="0.3">30</text>
<line x1="120.7" y1="453.8" x2="305.3" y2="453.8" stroke="#000" stroke-width="1.8"/>
<line x1="152.7" y1="453.8" x2="152.7" y2="457.8" stroke="#000" stroke-width="1.8"/>
<line x1="213.6" y1="453.8" x2="213.6" y2="457.8" stroke="#000" stroke-width="1.8"/>
<line x1="274" y1="453.8" x2="274" y2="457.8" stroke="#000" stroke-width="1.8"/>
<text x="153.35" y="466.7" font-family="'Liberation Sans', sans-serif" font-size="9" font-weight="bold" text-anchor="middle" fill="#000" textLength="60.5" lengthAdjust="spacingAndGlyphs" stroke="#000" stroke-width="0.3">healthy donor</text>
<text x="213.1" y="466.7" font-family="'Liberation Sans', sans-serif" font-size="9" font-weight="bold" text-anchor="middle" fill="#000" textLength="28.8" lengthAdjust="spacingAndGlyphs" stroke="#000" stroke-width="0.3">ALPS I</text>
<text x="273.9" y="466.7" font-family="'Liberation Sans', sans-serif" font-size="9" font-weight="bold" text-anchor="middle" fill="#000" textLength="19.8" lengthAdjust="spacingAndGlyphs" stroke="#000" stroke-width="0.3">MPR</text>
<path d="M142.6,329.4 V326.6 H276.4 V329.4" fill="none" stroke="#c4c4c4" stroke-width="2.6" stroke-linejoin="round"/>
<path d="M142,328.2 V325 H275.8 V328.2" fill="none" stroke="#111" stroke-width="1.8" stroke-linejoin="round"/>
<path d="M142.6,342 V337.4 H208.1 V342" fill="none" stroke="#c4c4c4" stroke-width="2.6" stroke-linejoin="round"/>
<path d="M142,340.8 V335.8 H207.5 V340.8" fill="none" stroke="#111" stroke-width="1.8" stroke-linejoin="round"/>
<path d="M211.1,341.6 V337.4 H276.4 V341.6" fill="none" stroke="#c4c4c4" stroke-width="2.6" stroke-linejoin="round"/>
<path d="M210.5,340.4 V335.8 H275.8 V340.4" fill="none" stroke="#111" stroke-width="1.8" stroke-linejoin="round"/>
<path d="M209,317.4 L209,323.6 M211.68,318.95 L206.32,322.05 M211.68,322.05 L206.32,318.95 " stroke="#111" stroke-width="1.15" stroke-linecap="butt"/>
<circle cx="209" cy="320.5" r="1.24" fill="#111"/>
<path d="M167,328.9 L167,335.1 M169.68,330.45 L164.32,333.55 M169.68,333.55 L164.32,330.45 " stroke="#111" stroke-width="1.15" stroke-linecap="butt"/>
<circle cx="167" cy="332" r="1.24" fill="#111"/>
<path d="M174.5,328.9 L174.5,335.1 M177.18,330.45 L171.82,333.55 M177.18,333.55 L171.82,330.45 " stroke="#111" stroke-width="1.15" stroke-linecap="butt"/>
<circle cx="174.5" cy="332" r="1.24" fill="#111"/>
<path d="M182,328.9 L182,335.1 M184.68,330.45 L179.32,333.55 M184.68,333.55 L179.32,330.45 " stroke="#111" stroke-width="1.15" stroke-linecap="butt"/>
<circle cx="182" cy="332" r="1.24" fill="#111"/>
<path d="M238.8,328.9 L238.8,335.1 M241.48,330.45 L236.12,333.55 M241.48,333.55 L236.12,330.45 " stroke="#111" stroke-width="1.15" stroke-linecap="butt"/>
<circle cx="238.8" cy="332" r="1.24" fill="#111"/>
<path d="M246.3,328.9 L246.3,335.1 M248.98,330.45 L243.62,333.55 M248.98,333.55 L243.62,330.45 " stroke="#111" stroke-width="1.15" stroke-linecap="butt"/>
<circle cx="246.3" cy="332" r="1.24" fill="#111"/>
<path d="M253.8,328.9 L253.8,335.1 M256.48,330.45 L251.12,333.55 M256.48,333.55 L251.12,330.45 " stroke="#111" stroke-width="1.15" stroke-linecap="butt"/>
<circle cx="253.8" cy="332" r="1.24" fill="#111"/>
<polygon points="151,342.4 155,342.4 153,338.6" fill="#000"/>
<polygon points="150.7,366.7 154.7,366.7 152.7,362.9" fill="#000"/>
<polygon points="150.7,379.1 154.7,379.1 152.7,375.3" fill="#000"/>
<polygon points="156.2,382.9 160.2,382.9 158.2,379.1" fill="#000"/>
<polygon points="150.7,387.2 154.7,387.2 152.7,383.4" fill="#000"/>
<polygon points="145.3,391.3 149.3,391.3 147.3,387.5" fill="#000"/>
<polygon points="150.7,395.3 154.7,395.3 152.7,391.5" fill="#000"/>
<polygon points="150.7,403.4 154.7,403.4 152.7,399.6" fill="#000"/>
<polygon points="145.3,411.3 149.3,411.3 147.3,407.5" fill="#000"/>
<polygon points="150.7,411.3 154.7,411.3 152.7,407.5" fill="#000"/>
<polygon points="134,415.4 138,415.4 136,411.6" fill="#000"/>
<polygon points="139.7,415.4 143.7,415.4 141.7,411.6" fill="#000"/>
<polygon points="147.8,415.4 151.8,415.4 149.8,411.6" fill="#000"/>
<polygon points="153.6,415.4 157.6,415.4 155.6,411.6" fill="#000"/>
<polygon points="162.2,415.4 166.2,415.4 164.2,411.6" fill="#000"/>
<polygon points="167.4,415.4 171.4,415.4 169.4,411.6" fill="#000"/>
<polygon points="145.3,419.6 149.3,419.6 147.3,415.8" fill="#000"/>
<polygon points="150.7,419.6 154.7,419.6 152.7,415.8" fill="#000"/>
<polygon points="156.2,419.6 160.2,419.6 158.2,415.8" fill="#000"/>
<polygon points="150.7,431.7 154.7,431.7 152.7,427.9" fill="#000"/>
<polygon points="145.3,435.7 149.3,435.7 147.3,431.9" fill="#000"/>
<polygon points="156.2,435.7 160.2,435.7 158.2,431.9" fill="#000"/>
<polygon points="150.7,439.8 154.7,439.8 152.7,436" fill="#000"/>
<line x1="132.2" y1="413.9" x2="173.5" y2="413.9" stroke="#000" stroke-width="1.6"/>
<rect x="211.9" y="391" width="3.4" height="3.4" fill="#000"/>
<rect x="206.4" y="410.4" width="3.4" height="3.4" fill="#000"/>
<rect x="211.9" y="412" width="3.4" height="3.4" fill="#000"/>
<rect x="217.1" y="415.8" width="3.4" height="3.4" fill="#000"/>
<rect x="206.4" y="422.5" width="3.4" height="3.4" fill="#000"/>
<rect x="211.9" y="420.8" width="3.4" height="3.4" fill="#000"/>
<rect x="211.9" y="426.5" width="3.4" height="3.4" fill="#000"/>
<rect x="217.1" y="430" width="3.4" height="3.4" fill="#000"/>
<rect x="211.9" y="433.9" width="3.4" height="3.4" fill="#000"/>
<rect x="200.6" y="437.4" width="3.4" height="3.4" fill="#000"/>
<rect x="217.1" y="438.1" width="3.4" height="3.4" fill="#000"/>
<rect x="222.5" y="436.6" width="3.4" height="3.4" fill="#000"/>
<rect x="206.4" y="440.4" width="3.4" height="3.4" fill="#000"/>
<rect x="211.9" y="441.2" width="3.4" height="3.4" fill="#000"/>
<rect x="195.4" y="443.5" width="3.4" height="3.4" fill="#000"/>
<rect x="200.6" y="445" width="3.4" height="3.4" fill="#000"/>
<rect x="228.1" y="444.3" width="3.4" height="3.4" fill="#000"/>
<rect x="222.5" y="446.1" width="3.4" height="3.4" fill="#000"/>
<rect x="206.4" y="448.1" width="3.4" height="3.4" fill="#000"/>
<rect x="211.9" y="448.1" width="3.4" height="3.4" fill="#000"/>
<rect x="217.1" y="448.1" width="3.4" height="3.4" fill="#000"/>
<line x1="192.5" y1="438.8" x2="234" y2="438.8" stroke="#000" stroke-width="1.6"/>
<polygon points="272.35,336.46 276.85,336.46 274.6,340.74" fill="#000"/>
<polygon points="277.55,334.16 282.05,334.16 279.8,338.44" fill="#000"/>
<polygon points="271.75,367.06 276.25,367.06 274,371.34" fill="#000"/>
<polygon points="277.05,370.66 281.55,370.66 279.3,374.94" fill="#000"/>
<polygon points="271.75,375.06 276.25,375.06 274,379.34" fill="#000"/>
<polygon points="260.85,376.96 265.35,376.96 263.1,381.24" fill="#000"/>
<polygon points="266.25,381.46 270.75,381.46 268.5,385.74" fill="#000"/>
<polygon points="271.75,382.76 276.25,382.76 274,387.04" fill="#000"/>
<polygon points="277.05,379.16 281.55,379.16 279.3,383.44" fill="#000"/>
<polygon points="271.75,390.86 276.25,390.86 274,395.14" fill="#000"/>
<polygon points="271.75,406.36 276.25,406.36 274,410.64" fill="#000"/>
<polygon points="271.75,434.26 276.25,434.26 274,438.54" fill="#000"/>
<polygon points="277.05,433.46 281.55,433.46 279.3,437.74" fill="#000"/>
<line x1="253.5" y1="381.5" x2="295" y2="381.5" stroke="#000" stroke-width="1.6"/>
<text x="310" y="345.2" font-family="'Liberation Sans', sans-serif" font-size="11.5" font-weight="bold" text-anchor="start" fill="#000" stroke="#000" stroke-width="0.3">F</text>
<line x1="341.6" y1="336.4" x2="341.6" y2="452.2" stroke="#000" stroke-width="1.8"/>
<line x1="337.6" y1="451.3" x2="341.6" y2="451.3" stroke="#000" stroke-width="1.8"/>
<text x="336.8" y="454.3" font-family="'Liberation Sans', sans-serif" font-size="9.3" font-weight="bold" text-anchor="end" fill="#000" textLength="4.6" lengthAdjust="spacingAndGlyphs" stroke="#000" stroke-width="0.3">0</text>
<line x1="337.6" y1="413" x2="341.6" y2="413" stroke="#000" stroke-width="1.8"/>
<text x="336.8" y="416" font-family="'Liberation Sans', sans-serif" font-size="9.3" font-weight="bold" text-anchor="end" fill="#000" textLength="9.2" lengthAdjust="spacingAndGlyphs" stroke="#000" stroke-width="0.3">10</text>
<line x1="337.6" y1="374.7" x2="341.6" y2="374.7" stroke="#000" stroke-width="1.8"/>
<text x="336.8" y="377.7" font-family="'Liberation Sans', sans-serif" font-size="9.3" font-weight="bold" text-anchor="end" fill="#000" textLength="9.2" lengthAdjust="spacingAndGlyphs" stroke="#000" stroke-width="0.3">20</text>
<line x1="337.6" y1="336.4" x2="341.6" y2="336.4" stroke="#000" stroke-width="1.8"/>
<text x="336.8" y="339.4" font-family="'Liberation Sans', sans-serif" font-size="9.3" font-weight="bold" text-anchor="end" fill="#000" textLength="9.2" lengthAdjust="spacingAndGlyphs" stroke="#000" stroke-width="0.3">30</text>
<line x1="340.7" y1="451.3" x2="513.9" y2="451.3" stroke="#000" stroke-width="1.8"/>
<line x1="341.7" y1="451.3" x2="341.7" y2="455.3" stroke="#000" stroke-width="1.8"/>
<line x1="370.4" y1="451.3" x2="370.4" y2="455.3" stroke="#000" stroke-width="1.8"/>
<line x1="399.1" y1="451.3" x2="399.1" y2="455.3" stroke="#000" stroke-width="1.8"/>
<line x1="427.8" y1="451.3" x2="427.8" y2="455.3" stroke="#000" stroke-width="1.8"/>
<line x1="456.5" y1="451.3" x2="456.5" y2="455.3" stroke="#000" stroke-width="1.8"/>
<line x1="485.2" y1="451.3" x2="485.2" y2="455.3" stroke="#000" stroke-width="1.8"/>
<line x1="513.9" y1="451.3" x2="513.9" y2="455.3" stroke="#000" stroke-width="1.8"/>
<text x="341.7" y="462.6" font-family="'Liberation Sans', sans-serif" font-size="9.5" font-weight="bold" text-anchor="middle" fill="#000" textLength="4.7" lengthAdjust="spacingAndGlyphs" stroke="#000" stroke-width="0.3">0</text>
<text x="370.4" y="462.6" font-family="'Liberation Sans', sans-serif" font-size="9.5" font-weight="bold" text-anchor="middle" fill="#000" textLength="9.4" lengthAdjust="spacingAndGlyphs" stroke="#000" stroke-width="0.3">10</text>
<text x="399.1" y="462.6" font-family="'Liberation Sans', sans-serif" font-size="9.5" font-weight="bold" text-anchor="middle" fill="#000" textLength="9.4" lengthAdjust="spacingAndGlyphs" stroke="#000" stroke-width="0.3">20</text>
<text x="427.8" y="462.6" font-family="'Liberation Sans', sans-serif" font-size="9.5" font-weight="bold" text-anchor="middle" fill="#000" textLength="9.4" lengthAdjust="spacingAndGlyphs" stroke="#000" stroke-width="0.3">30</text>
<text x="456.5" y="462.6" font-family="'Liberation Sans', sans-serif" font-size="9.5" font-weight="bold" text-anchor="middle" fill="#000" textLength="9.4" lengthAdjust="spacingAndGlyphs" stroke="#000" stroke-width="0.3">40</text>
<text x="485.2" y="462.6" font-family="'Liberation Sans', sans-serif" font-size="9.5" font-weight="bold" text-anchor="middle" fill="#000" textLength="9.4" lengthAdjust="spacingAndGlyphs" stroke="#000" stroke-width="0.3">50</text>
<text x="513.9" y="462.6" font-family="'Liberation Sans', sans-serif" font-size="9.5" font-weight="bold" text-anchor="middle" fill="#000" textLength="9.4" lengthAdjust="spacingAndGlyphs" stroke="#000" stroke-width="0.3">60</text>
<text x="427.9" y="476.6" font-family="'Liberation Sans', sans-serif" font-size="9.6" font-weight="bold" text-anchor="middle" fill="#000" textLength="51.6" lengthAdjust="spacingAndGlyphs" stroke="#000" stroke-width="0.3">Age (years)</text>
<text x="375.4" y="347.2" font-family="'Liberation Serif', serif" font-size="11.8" text-anchor="start" fill="#000" textLength="43.8" lengthAdjust="spacingAndGlyphs" stroke="#000" stroke-width="0.25">P&lt; 0.0001</text>
<rect x="359.65" y="380.15" width="3.7" height="3.7" fill="#6eaa28"/>
<rect x="359.65" y="383.55" width="3.7" height="3.7" fill="#6eaa28"/>
<rect x="342.55" y="410.95" width="3.7" height="3.7" fill="#6eaa28"/>
<rect x="359.45" y="407.65" width="3.7" height="3.7" fill="#6eaa28"/>
<rect x="385.55" y="410.95" width="3.7" height="3.7" fill="#6eaa28"/>
<rect x="368.55" y="434.25" width="3.7" height="3.7" fill="#6eaa28"/>
<rect x="380.25" y="430.45" width="3.7" height="3.7" fill="#6eaa28"/>
<rect x="408.15" y="415.15" width="3.7" height="3.7" fill="#6eaa28"/>
<rect x="454.65" y="341.95" width="3.7" height="3.7" fill="#6eaa28"/>
<rect x="460.45" y="365.05" width="3.7" height="3.7" fill="#6eaa28"/>
<rect x="403.25" y="376.65" width="3.7" height="3.7" fill="#6eaa28"/>
<rect x="454.65" y="388.55" width="3.7" height="3.7" fill="#6eaa28"/>
<rect x="454.65" y="391.75" width="3.7" height="3.7" fill="#6eaa28"/>
<rect x="454.65" y="399.65" width="3.7" height="3.7" fill="#6eaa28"/>
<rect x="428.65" y="407.05" width="3.7" height="3.7" fill="#6eaa28"/>
<rect x="426.35" y="411.25" width="3.7" height="3.7" fill="#6eaa28"/>
<rect x="408.55" y="415.35" width="3.7" height="3.7" fill="#6eaa28"/>
<rect x="411.95" y="415.35" width="3.7" height="3.7" fill="#6eaa28"/>
<rect x="440.35" y="411.25" width="3.7" height="3.7" fill="#6eaa28"/>
<rect x="454.65" y="411.25" width="3.7" height="3.7" fill="#6eaa28"/>
<rect x="469.25" y="411.25" width="3.7" height="3.7" fill="#6eaa28"/>
<rect x="426.35" y="426.95" width="3.7" height="3.7" fill="#6eaa28"/>
<rect x="448.95" y="430.35" width="3.7" height="3.7" fill="#6eaa28"/>
<polygon points="357.75,415.72 362.85,415.72 360.3,410.88" fill="#c80f23"/>
<polygon points="353.55,442.72 358.65,442.72 356.1,437.88" fill="#c80f23"/>
<polygon points="359.25,446.62 364.35,446.62 361.8,441.78" fill="#c80f23"/>
<polygon points="370.45,438.92 375.55,438.92 373,434.08" fill="#c80f23"/>
<polygon points="370.45,449.92 375.55,449.92 373,445.08" fill="#c80f23"/>
<polygon points="379.35,448.52 384.45,448.52 381.9,443.68" fill="#c80f23"/>
<polygon points="383.15,449.92 388.25,449.92 385.7,445.08" fill="#c80f23"/>
<polygon points="386.35,446.32 391.45,446.32 388.9,441.48" fill="#c80f23"/>
<polygon points="389.45,445.32 394.55,445.32 392,440.48" fill="#c80f23"/>
<polygon points="390.95,419.42 396.05,419.42 393.5,414.58" fill="#c80f23"/>
<polygon points="387.95,426.22 393.05,426.22 390.5,421.38" fill="#c80f23"/>
<polygon points="388.85,432.62 393.95,432.62 391.4,427.78" fill="#c80f23"/>
<polygon points="399.45,424.12 404.55,424.12 402,419.28" fill="#c80f23"/>
<polygon points="407.05,449.92 412.15,449.92 409.6,445.08" fill="#c80f23"/>
<polygon points="463.25,395.92 468.35,395.92 465.8,391.08" fill="#c80f23"/>
<polygon points="419.35,414.32 424.45,414.32 421.9,409.48" fill="#c80f23"/>
<polygon points="435.55,429.32 440.65,429.32 438.1,424.48" fill="#c80f23"/>
<polygon points="427.95,436.22 433.05,436.22 430.5,431.38" fill="#c80f23"/>
<polygon points="431.35,440.42 436.45,440.42 433.9,435.58" fill="#c80f23"/>
<polygon points="474.35,439.72 479.45,439.72 476.9,434.88" fill="#c80f23"/>
<polygon points="497.15,443.22 502.25,443.22 499.7,438.38" fill="#c80f23"/>
<polygon points="353.45,431.88 358.75,431.88 356.1,436.92" fill="#000"/>
<polygon points="376.25,431.28 381.55,431.28 378.9,436.32" fill="#000"/>
<polygon points="468.45,340.18 473.75,340.18 471.1,345.22" fill="#000"/>
<polygon points="482.75,337.18 488.05,337.18 485.4,342.22" fill="#000"/>
<polygon points="482.75,371.78 488.05,371.78 485.4,376.82" fill="#000"/>
<polygon points="491.25,368.58 496.55,368.58 493.9,373.62" fill="#000"/>
<polygon points="425.55,378.28 430.85,378.28 428.2,383.32" fill="#000"/>
<polygon points="442.35,382.88 447.65,382.88 445,387.92" fill="#000"/>
<polygon points="445.35,382.38 450.65,382.38 448,387.42" fill="#000"/>
<polygon points="453.85,376.38 459.15,376.38 456.5,381.42" fill="#000"/>
<polygon points="453.85,380.58 459.15,380.58 456.5,385.62" fill="#000"/>
<polygon points="445.35,390.98 450.65,390.98 448,396.02" fill="#000"/>
<polygon points="482.75,405.78 488.05,405.78 485.4,410.82" fill="#000"/>
<text x="4" y="497.3" font-family="'Liberation Sans', sans-serif" font-size="11.5" font-weight="bold" text-anchor="start" fill="#000" stroke="#000" stroke-width="0.3">G</text>
<text transform="translate(23.2,568.1) rotate(-90)" x="0" y="0" font-family="'Liberation Serif', serif" font-size="10.4" font-weight="bold" text-anchor="middle" textLength="135.5" lengthAdjust="spacingAndGlyphs">CD19+CD27+ memory B cells (%)</text>
<line x1="45.2" y1="508.1" x2="45.2" y2="631.7" stroke="#000" stroke-width="1.8"/>
<line x1="40.6" y1="630.8" x2="45.2" y2="630.8" stroke="#000" stroke-width="1.8"/>
<text x="39" y="634.3" font-family="'Liberation Sans', sans-serif" font-size="9.8" font-weight="bold" text-anchor="end" fill="#000" textLength="5" lengthAdjust="spacingAndGlyphs" stroke="#000" stroke-width="0.3">0</text>
<line x1="40.6" y1="610.35" x2="45.2" y2="610.35" stroke="#000" stroke-width="1.8"/>
<text x="39" y="613.85" font-family="'Liberation Sans', sans-serif" font-size="9.8" font-weight="bold" text-anchor="end" fill="#000" textLength="10" lengthAdjust="spacingAndGlyphs" stroke="#000" stroke-width="0.3">10</text>
<line x1="40.6" y1="589.9" x2="45.2" y2="589.9" stroke="#000" stroke-width="1.8"/>
<text x="39" y="593.4" font-family="'Liberation Sans', sans-serif" font-size="9.8" font-weight="bold" text-anchor="end" fill="#000" textLength="10" lengthAdjust="spacingAndGlyphs" stroke="#000" stroke-width="0.3">20</text>
<line x1="40.6" y1="569.45" x2="45.2" y2="569.45" stroke="#000" stroke-width="1.8"/>
<text x="39" y="572.95" font-family="'Liberation Sans', sans-serif" font-size="9.8" font-weight="bold" text-anchor="end" fill="#000" textLength="10" lengthAdjust="spacingAndGlyphs" stroke="#000" stroke-width="0.3">30</text>
<line x1="40.6" y1="549" x2="45.2" y2="549" stroke="#000" stroke-width="1.8"/>
<text x="39" y="552.5" font-family="'Liberation Sans', sans-serif" font-size="9.8" font-weight="bold" text-anchor="end" fill="#000" textLength="10" lengthAdjust="spacingAndGlyphs" stroke="#000" stroke-width="0.3">40</text>
<line x1="40.6" y1="528.55" x2="45.2" y2="528.55" stroke="#000" stroke-width="1.8"/>
<text x="39" y="532.05" font-family="'Liberation Sans', sans-serif" font-size="9.8" font-weight="bold" text-anchor="end" fill="#000" textLength="10" lengthAdjust="spacingAndGlyphs" stroke="#000" stroke-width="0.3">50</text>
<line x1="40.6" y1="508.1" x2="45.2" y2="508.1" stroke="#000" stroke-width="1.8"/>
<text x="39" y="511.6" font-family="'Liberation Sans', sans-serif" font-size="9.8" font-weight="bold" text-anchor="end" fill="#000" textLength="10" lengthAdjust="spacingAndGlyphs" stroke="#000" stroke-width="0.3">60</text>
<line x1="44.5" y1="630.8" x2="242.6" y2="630.8" stroke="#000" stroke-width="1.8"/>
<line x1="69.6" y1="630.8" x2="69.6" y2="634.8" stroke="#000" stroke-width="1.8"/>
<line x1="118.9" y1="630.8" x2="118.9" y2="634.8" stroke="#000" stroke-width="1.8"/>
<line x1="168.2" y1="630.8" x2="168.2" y2="634.8" stroke="#000" stroke-width="1.8"/>
<line x1="217.4" y1="630.8" x2="217.4" y2="634.8" stroke="#000" stroke-width="1.8"/>
<text x="64.6" y="648.2" font-family="'Liberation Sans', sans-serif" font-size="9.6" font-weight="bold" text-anchor="middle" fill="#000" textLength="21.6" lengthAdjust="spacingAndGlyphs" stroke="#000" stroke-width="0.3">MPR</text>
<text x="117.2" y="648.2" font-family="'Liberation Sans', sans-serif" font-size="9.6" font-weight="bold" text-anchor="middle" fill="#000" textLength="48.6" lengthAdjust="spacingAndGlyphs" stroke="#000" stroke-width="0.3">Active dis</text>
<text x="117" y="660.8" font-family="'Liberation Sans', sans-serif" font-size="9.6" font-weight="bold" text-anchor="middle" fill="#000" textLength="50.8" lengthAdjust="spacingAndGlyphs" stroke="#000" stroke-width="0.3">not treated</text>
<text x="175.7" y="648.2" font-family="'Liberation Sans', sans-serif" font-size="9.6" font-weight="bold" text-anchor="middle" fill="#000" textLength="49.9" lengthAdjust="spacingAndGlyphs" stroke="#000" stroke-width="0.3">Active dis.</text>
<text x="175.4" y="660.8" font-family="'Liberation Sans', sans-serif" font-size="9.6" font-weight="bold" text-anchor="middle" fill="#000" textLength="29.6" lengthAdjust="spacingAndGlyphs" stroke="#000" stroke-width="0.3">treated</text>
<text x="232.5" y="648.2" font-family="'Liberation Sans', sans-serif" font-size="9.6" font-weight="bold" text-anchor="middle" fill="#000" textLength="48.2" lengthAdjust="spacingAndGlyphs" stroke="#000" stroke-width="0.3">Remission</text>
<path d="M112.6,562.6 V559.8 H217.6 V562.6" fill="none" stroke="#c4c4c4" stroke-width="2.6" stroke-linejoin="round"/>
<path d="M112,561.4 V558.2 H217 V561.4" fill="none" stroke="#1a1a1a" stroke-width="1.8" stroke-linejoin="round"/>
<path d="M123.6,582.6 V580.4 H168.6 V582.6" fill="none" stroke="#c4c4c4" stroke-width="2.6" stroke-linejoin="round"/>
<path d="M123,581.4 V578.8 H168 V581.4" fill="none" stroke="#1a1a1a" stroke-width="1.8" stroke-linejoin="round"/>
<path d="M162.2,547.3 L162.2,554.3 M165.23,549.05 L159.17,552.55 M165.23,552.55 L159.17,549.05 " stroke="#111" stroke-width="1.29" stroke-linecap="butt"/>
<circle cx="162.2" cy="550.8" r="1.4" fill="#111"/>
<path d="M141,567 L141,574 M144.03,568.75 L137.97,572.25 M144.03,572.25 L137.97,568.75 " stroke="#111" stroke-width="1.29" stroke-linecap="butt"/>
<circle cx="141" cy="570.5" r="1.4" fill="#111"/>
<path d="M149.8,567 L149.8,574 M152.83,568.75 L146.77,572.25 M152.83,572.25 L146.77,568.75 " stroke="#111" stroke-width="1.29" stroke-linecap="butt"/>
<circle cx="149.8" cy="570.5" r="1.4" fill="#111"/>
<circle cx="63.8" cy="508.5" r="2" fill="#000"/>
<circle cx="69.6" cy="512.3" r="2" fill="#000"/>
<circle cx="69.6" cy="532.9" r="2" fill="#000"/>
<circle cx="69.6" cy="543.1" r="2" fill="#000"/>
<circle cx="69.6" cy="554" r="2" fill="#000"/>
<circle cx="75.6" cy="553.5" r="2" fill="#000"/>
<circle cx="57.7" cy="571.5" r="2" fill="#000"/>
<circle cx="63.5" cy="572.4" r="2" fill="#000"/>
<circle cx="76" cy="571.4" r="2" fill="#000"/>
<circle cx="69.6" cy="575.3" r="2" fill="#000"/>
<circle cx="69.6" cy="581.7" r="2" fill="#000"/>
<circle cx="69.6" cy="594.2" r="2" fill="#000"/>
<circle cx="69.6" cy="609.6" r="2" fill="#000"/>
<circle cx="75.6" cy="606.2" r="2" fill="#000"/>
<line x1="52.9" y1="570.5" x2="86.5" y2="570.5" stroke="#000" stroke-width="1.6"/>
<circle cx="113.1" cy="612.3" r="2" fill="#000"/>
<circle cx="118.9" cy="616.5" r="2" fill="#000"/>
<circle cx="113.1" cy="622.3" r="2" fill="#000"/>
<circle cx="118.9" cy="622.3" r="2" fill="#000"/>
<circle cx="124.6" cy="622.3" r="2" fill="#000"/>
<circle cx="130.8" cy="620.3" r="2" fill="#000"/>
<line x1="102.3" y1="619.8" x2="135.7" y2="619.8" stroke="#000" stroke-width="1.6"/>
<circle cx="168.2" cy="594.2" r="2" fill="#000"/>
<circle cx="168.2" cy="602.3" r="2" fill="#000"/>
<circle cx="174.2" cy="605.8" r="2" fill="#000"/>
<circle cx="168.2" cy="608.6" r="2" fill="#000"/>
<line x1="150.8" y1="602.8" x2="185" y2="602.8" stroke="#000" stroke-width="1.6"/>
<circle cx="217.4" cy="586.2" r="2" fill="#000"/>
<circle cx="211.2" cy="596.2" r="2" fill="#000"/>
<circle cx="217.4" cy="600.3" r="2" fill="#000"/>
<circle cx="217.4" cy="607.7" r="2" fill="#000"/>
<circle cx="211.2" cy="613.8" r="2" fill="#000"/>
<circle cx="217.4" cy="615.4" r="2" fill="#000"/>
<circle cx="217.4" cy="622.3" r="2" fill="#000"/>
<line x1="200.5" y1="605.8" x2="234.3" y2="605.8" stroke="#000" stroke-width="1.6"/>
<text x="264" y="497" font-family="'Liberation Sans', sans-serif" font-size="11.5" font-weight="bold" text-anchor="start" fill="#000" stroke="#000" stroke-width="0.3">H</text>
<text transform="translate(276.4,565) rotate(-90)" x="0" y="0" font-family="'Liberation Serif', serif" font-size="10.2" font-weight="bold" text-anchor="middle" textLength="129" lengthAdjust="spacingAndGlyphs">CD19+CD27+IgD+ MZB (%)</text>
<line x1="295.2" y1="508.3" x2="295.2" y2="631.9" stroke="#000" stroke-width="1.8"/>
<line x1="291.2" y1="631" x2="295.2" y2="631" stroke="#000" stroke-width="1.8"/>
<text x="290.6" y="634.4" font-family="'Liberation Sans', sans-serif" font-size="9.6" font-weight="bold" text-anchor="end" fill="#000" stroke="#000" stroke-width="0.3">0</text>
<line x1="291.2" y1="600.33" x2="295.2" y2="600.33" stroke="#000" stroke-width="1.8"/>
<text x="290.6" y="603.73" font-family="'Liberation Sans', sans-serif" font-size="9.6" font-weight="bold" text-anchor="end" fill="#000" stroke="#000" stroke-width="0.3">5</text>
<line x1="291.2" y1="569.65" x2="295.2" y2="569.65" stroke="#000" stroke-width="1.8"/>
<text x="290.6" y="573.05" font-family="'Liberation Sans', sans-serif" font-size="9.6" font-weight="bold" text-anchor="end" fill="#000" stroke="#000" stroke-width="0.3">10</text>
<line x1="291.2" y1="538.98" x2="295.2" y2="538.98" stroke="#000" stroke-width="1.8"/>
<text x="290.6" y="542.38" font-family="'Liberation Sans', sans-serif" font-size="9.6" font-weight="bold" text-anchor="end" fill="#000" stroke="#000" stroke-width="0.3">15</text>
<line x1="291.2" y1="508.3" x2="295.2" y2="508.3" stroke="#000" stroke-width="1.8"/>
<text x="290.6" y="511.7" font-family="'Liberation Sans', sans-serif" font-size="9.6" font-weight="bold" text-anchor="end" fill="#000" stroke="#000" stroke-width="0.3">20</text>
<line x1="294.3" y1="630.7" x2="494" y2="630.7" stroke="#000" stroke-width="1.8"/>
<line x1="320.2" y1="630.7" x2="320.2" y2="634.7" stroke="#000" stroke-width="1.8"/>
<line x1="369.2" y1="630.7" x2="369.2" y2="634.7" stroke="#000" stroke-width="1.8"/>
<line x1="418.8" y1="630.7" x2="418.8" y2="634.7" stroke="#000" stroke-width="1.8"/>
<line x1="468.1" y1="630.7" x2="468.1" y2="634.7" stroke="#000" stroke-width="1.8"/>
<text x="321.1" y="648.2" font-family="'Liberation Sans', sans-serif" font-size="9.6" font-weight="bold" text-anchor="middle" fill="#000" textLength="21.1" lengthAdjust="spacingAndGlyphs" stroke="#000" stroke-width="0.3">MPR</text>
<text x="374" y="648.2" font-family="'Liberation Sans', sans-serif" font-size="9.6" font-weight="bold" text-anchor="middle" fill="#000" textLength="50.8" lengthAdjust="spacingAndGlyphs" stroke="#000" stroke-width="0.3">Active dis.</text>
<text x="374.9" y="660.8" font-family="'Liberation Sans', sans-serif" font-size="9.6" font-weight="bold" text-anchor="middle" fill="#000" textLength="50.8" lengthAdjust="spacingAndGlyphs" stroke="#000" stroke-width="0.3">not treated</text>
<text x="435" y="648.2" font-family="'Liberation Sans', sans-serif" font-size="9.6" font-weight="bold" text-anchor="middle" fill="#000" textLength="50" lengthAdjust="spacingAndGlyphs" stroke="#000" stroke-width="0.3">Active dis.</text>
<text x="434.7" y="660.8" font-family="'Liberation Sans', sans-serif" font-size="9.6" font-weight="bold" text-anchor="middle" fill="#000" textLength="32.6" lengthAdjust="spacingAndGlyphs" stroke="#000" stroke-width="0.3">treated</text>
<text x="470.4" y="648.2" font-family="'Liberation Sans', sans-serif" font-size="9.6" font-weight="bold" text-anchor="start" fill="#000" textLength="51" lengthAdjust="spacingAndGlyphs" stroke="#000" stroke-width="0.3">Remission</text>
<path d="M378.1,537.1 V534.7 H434.8 V537.1" fill="none" stroke="#c4c4c4" stroke-width="2.6" stroke-linejoin="round"/>
<path d="M377.5,535.9 V533.1 H434.2 V535.9" fill="none" stroke="#1a1a1a" stroke-width="1.8" stroke-linejoin="round"/>
<path d="M399.6,523.2 L399.6,530.2 M402.63,524.95 L396.57,528.45 M402.63,528.45 L396.57,524.95 " stroke="#111" stroke-width="1.29" stroke-linecap="butt"/>
<circle cx="399.6" cy="526.7" r="1.4" fill="#111"/>
<circle cx="320.2" cy="508.5" r="2" fill="#000"/>
<circle cx="320.2" cy="520.8" r="2" fill="#000"/>
<circle cx="320.2" cy="542.1" r="2" fill="#000"/>
<circle cx="320.2" cy="555.6" r="2" fill="#000"/>
<circle cx="326.3" cy="555.6" r="2" fill="#000"/>
<circle cx="320.2" cy="569.6" r="2" fill="#000"/>
<circle cx="314.2" cy="590.8" r="2" fill="#000"/>
<circle cx="320.2" cy="588.3" r="2" fill="#000"/>
<circle cx="320.2" cy="594.6" r="2" fill="#000"/>
<circle cx="320.2" cy="606.5" r="2" fill="#000"/>
<line x1="303.3" y1="555.6" x2="337.3" y2="555.6" stroke="#000" stroke-width="1.6"/>
<circle cx="357.7" cy="612.3" r="2" fill="#000"/>
<circle cx="363.5" cy="615.6" r="2" fill="#000"/>
<circle cx="369.2" cy="617.1" r="2" fill="#000"/>
<circle cx="375.6" cy="612.3" r="2" fill="#000"/>
<circle cx="369.2" cy="623.8" r="2" fill="#000"/>
<circle cx="375.6" cy="622.9" r="2" fill="#000"/>
<line x1="352.5" y1="616.5" x2="387.1" y2="616.5" stroke="#000" stroke-width="1.6"/>
<circle cx="418.8" cy="555.6" r="2" fill="#000"/>
<circle cx="418.8" cy="581.9" r="2" fill="#000"/>
<circle cx="424.6" cy="604.6" r="2" fill="#000"/>
<circle cx="418.8" cy="608.1" r="2" fill="#000"/>
<line x1="401.9" y1="593.1" x2="435.8" y2="593.1" stroke="#000" stroke-width="1.6"/>
<circle cx="468.1" cy="538.8" r="2" fill="#000"/>
<circle cx="468.1" cy="583.1" r="2" fill="#000"/>
<circle cx="468.1" cy="594" r="2" fill="#000"/>
<circle cx="462.3" cy="609.4" r="2" fill="#000"/>
<circle cx="468.1" cy="610" r="2" fill="#000"/>
<circle cx="468.1" cy="617.1" r="2" fill="#000"/>
<circle cx="474.4" cy="616.2" r="2" fill="#000"/>
<line x1="451.2" y1="595.6" x2="485.4" y2="595.6" stroke="#000" stroke-width="1.6"/>
<text x="3.6" y="680.6" font-family="'Liberation Sans', sans-serif" font-size="11.5" font-weight="bold" text-anchor="start" fill="#000" stroke="#000" stroke-width="0.3">I</text>
<text transform="translate(21.3,737.2) rotate(-90)" x="0" y="0" font-family="'Liberation Sans', sans-serif" font-size="9.4" font-weight="bold" text-anchor="middle" textLength="101" lengthAdjust="spacingAndGlyphs">CD3+ TCR<tspan font-style="italic" font-weight="normal" font-size="7.5" dy="1.6">&#945;&#946;</tspan><tspan dy="-1.6">+ CD4-CD8- (%)</tspan></text>
<line x1="41.4" y1="675.4" x2="41.4" y2="692.5" stroke="#000" stroke-width="1.8"/>
<line x1="37.6" y1="676.3" x2="41.4" y2="676.3" stroke="#000" stroke-width="1.8"/>
<line x1="37.6" y1="692.5" x2="45" y2="692.5" stroke="#000" stroke-width="1.8"/>
<line x1="41.4" y1="701.9" x2="41.4" y2="803.4" stroke="#000" stroke-width="1.8"/>
<line x1="37.6" y1="701.9" x2="45" y2="701.9" stroke="#000" stroke-width="1.8"/>
<line x1="37.6" y1="802.5" x2="41.4" y2="802.5" stroke="#000" stroke-width="1.8"/>
<line x1="37.6" y1="769.1" x2="41.4" y2="769.1" stroke="#000" stroke-width="1.8"/>
<line x1="37.6" y1="735.7" x2="41.4" y2="735.7" stroke="#000" stroke-width="1.8"/>
<text x="36.6" y="679.5" font-family="'Liberation Sans', sans-serif" font-size="9" font-weight="bold" text-anchor="end" fill="#000" stroke="#000" stroke-width="0.3">50</text>
<text x="36.6" y="695.7" font-family="'Liberation Sans', sans-serif" font-size="9" font-weight="bold" text-anchor="end" fill="#000" stroke="#000" stroke-width="0.3">30</text>
<text x="36.6" y="705.1" font-family="'Liberation Sans', sans-serif" font-size="9" font-weight="bold" text-anchor="end" fill="#000" stroke="#000" stroke-width="0.3">30</text>
<text x="36.6" y="738.9" font-family="'Liberation Sans', sans-serif" font-size="9" font-weight="bold" text-anchor="end" fill="#000" stroke="#000" stroke-width="0.3">20</text>
<text x="36.6" y="772.3" font-family="'Liberation Sans', sans-serif" font-size="9" font-weight="bold" text-anchor="end" fill="#000" stroke="#000" stroke-width="0.3">10</text>
<text x="36.6" y="805.7" font-family="'Liberation Sans', sans-serif" font-size="9" font-weight="bold" text-anchor="end" fill="#000" stroke="#000" stroke-width="0.3">0</text>
<line x1="40.5" y1="802.5" x2="178.3" y2="802.5" stroke="#000" stroke-width="1.8"/>
<line x1="41.3" y1="802.5" x2="41.3" y2="806.3" stroke="#000" stroke-width="1.8"/>
<line x1="86.85" y1="802.5" x2="86.85" y2="806.3" stroke="#000" stroke-width="1.8"/>
<line x1="132.4" y1="802.5" x2="132.4" y2="806.3" stroke="#000" stroke-width="1.8"/>
<line x1="178.3" y1="799.4" x2="178.3" y2="806.3" stroke="#000" stroke-width="1.8"/>
<line x1="186.3" y1="802.5" x2="223.1" y2="802.5" stroke="#000" stroke-width="1.8"/>
<line x1="186.3" y1="799.4" x2="186.3" y2="806.3" stroke="#000" stroke-width="1.8"/>
<line x1="204.7" y1="802.5" x2="204.7" y2="806.3" stroke="#000" stroke-width="1.8"/>
<line x1="223.1" y1="799.4" x2="223.1" y2="806.3" stroke="#000" stroke-width="1.8"/>
<text x="41.3" y="816.3" font-family="'Liberation Sans', sans-serif" font-size="9" font-weight="bold" text-anchor="middle" fill="#000" stroke="#000" stroke-width="0.3">0</text>
<text x="86.9" y="816.3" font-family="'Liberation Sans', sans-serif" font-size="9" font-weight="bold" text-anchor="middle" fill="#000" stroke="#000" stroke-width="0.3">10</text>
<text x="132" y="816.3" font-family="'Liberation Sans', sans-serif" font-size="9" font-weight="bold" text-anchor="middle" fill="#000" stroke="#000" stroke-width="0.3">20</text>
<text x="183" y="816.3" font-family="'Liberation Sans', sans-serif" font-size="9" font-weight="bold" text-anchor="end" fill="#000" stroke="#000" stroke-width="0.3">30</text>
<text x="183.4" y="816.3" font-family="'Liberation Sans', sans-serif" font-size="9" font-weight="bold" text-anchor="start" fill="#000" stroke="#000" stroke-width="0.3">40</text>
<text x="204.8" y="816.3" font-family="'Liberation Sans', sans-serif" font-size="9" font-weight="bold" text-anchor="middle" fill="#000" stroke="#000" stroke-width="0.3">50</text>
<text x="222.7" y="816.3" font-family="'Liberation Sans', sans-serif" font-size="9" font-weight="bold" text-anchor="middle" fill="#000" stroke="#000" stroke-width="0.3">60</text>
<text x="132.4" y="828.7" font-family="'Liberation Sans', sans-serif" font-size="7.8" font-weight="bold" text-anchor="middle" fill="#000" textLength="122.5" lengthAdjust="spacingAndGlyphs" stroke="#000" stroke-width="0.3">CD19+CD27+ memory B cells (%)</text>
<text x="157.3" y="723.2" font-family="'Liberation Serif', serif" font-size="12.6" text-anchor="start" fill="#000" textLength="48.5" lengthAdjust="spacingAndGlyphs" stroke="#000" stroke-width="0.25">P&lt; 0.0001</text>
<circle cx="73.1" cy="676.7" r="2" fill="#000"/>
<circle cx="59.6" cy="701.7" r="2" fill="#000"/>
<circle cx="60.6" cy="711.9" r="2" fill="#000"/>
<circle cx="86.9" cy="721.9" r="2" fill="#000"/>
<circle cx="50.4" cy="735.4" r="2" fill="#000"/>
<circle cx="79.2" cy="738.8" r="2" fill="#000"/>
<circle cx="64.4" cy="748.7" r="2" fill="#000"/>
<circle cx="59.6" cy="765.4" r="2" fill="#000"/>
<circle cx="59.6" cy="768.6" r="2" fill="#000"/>
<circle cx="64.8" cy="772.3" r="2" fill="#000"/>
<circle cx="52.3" cy="775.6" r="2" fill="#000"/>
<circle cx="50.4" cy="792.3" r="2" fill="#000"/>
<circle cx="75" cy="779" r="2" fill="#000"/>
<circle cx="82.5" cy="782.3" r="2" fill="#000"/>
<circle cx="88.8" cy="785.8" r="2" fill="#000"/>
<circle cx="91.9" cy="785.8" r="2" fill="#000"/>
<circle cx="91" cy="772.3" r="2" fill="#000"/>
<circle cx="96.3" cy="772.3" r="2" fill="#000"/>
<circle cx="96.1" cy="795.8" r="2" fill="#000"/>
<circle cx="105" cy="785.8" r="2" fill="#000"/>
<circle cx="109.8" cy="792.3" r="2" fill="#000"/>
<circle cx="119" cy="775.6" r="2" fill="#000"/>
<circle cx="123.3" cy="782.3" r="2" fill="#000"/>
<circle cx="123.3" cy="789" r="2" fill="#000"/>
<circle cx="141.2" cy="792.3" r="2" fill="#000"/>
<circle cx="150.8" cy="794.2" r="2" fill="#000"/>
<circle cx="164" cy="795.8" r="2" fill="#000"/>
<circle cx="171.7" cy="768.8" r="2" fill="#000"/>
<circle cx="173.2" cy="793.2" r="2" fill="#000"/>
<circle cx="173.2" cy="796" r="2" fill="#000"/>
<circle cx="192.3" cy="795.8" r="2" fill="#000"/>
<circle cx="201" cy="785.8" r="2" fill="#000"/>
<circle cx="219.2" cy="792.3" r="2" fill="#000"/>
<circle cx="223.1" cy="798.7" r="2" fill="#000"/>
<text x="265.6" y="680.6" font-family="'Liberation Sans', sans-serif" font-size="11.5" font-weight="bold" text-anchor="start" fill="#000" stroke="#000" stroke-width="0.3">J</text>
<text transform="translate(277.5,740.8) rotate(-90)" x="0" y="0" font-family="'Liberation Sans', sans-serif" font-size="8.4" font-weight="bold" text-anchor="middle" textLength="50.5" lengthAdjust="spacingAndGlyphs">Fas L (ng/ml)</text>
<line x1="297.8" y1="676.8" x2="297.8" y2="700.2" stroke="#000" stroke-width="1.8"/>
<line x1="294" y1="677.7" x2="297.8" y2="677.7" stroke="#000" stroke-width="1.8"/>
<line x1="294" y1="700.2" x2="300.8" y2="700.2" stroke="#000" stroke-width="1.8"/>
<line x1="297.8" y1="709.1" x2="297.8" y2="803.4" stroke="#000" stroke-width="1.8"/>
<line x1="294" y1="709.1" x2="300.8" y2="709.1" stroke="#000" stroke-width="1.8"/>
<line x1="294" y1="802.5" x2="297.8" y2="802.5" stroke="#000" stroke-width="1.8"/>
<line x1="294" y1="783.82" x2="297.8" y2="783.82" stroke="#000" stroke-width="1.8"/>
<line x1="294" y1="765.14" x2="297.8" y2="765.14" stroke="#000" stroke-width="1.8"/>
<line x1="294" y1="746.46" x2="297.8" y2="746.46" stroke="#000" stroke-width="1.8"/>
<line x1="294" y1="727.78" x2="297.8" y2="727.78" stroke="#000" stroke-width="1.8"/>
<text x="293" y="680.9" font-family="'Liberation Sans', sans-serif" font-size="9" font-weight="bold" text-anchor="end" fill="#000" stroke="#000" stroke-width="0.3">50</text>
<text x="293" y="703.4" font-family="'Liberation Sans', sans-serif" font-size="9" font-weight="bold" text-anchor="end" fill="#000" stroke="#000" stroke-width="0.3">5</text>
<text x="293" y="712.3" font-family="'Liberation Sans', sans-serif" font-size="9" font-weight="bold" text-anchor="end" fill="#000" stroke="#000" stroke-width="0.3">5</text>
<text x="293" y="730.98" font-family="'Liberation Sans', sans-serif" font-size="9" font-weight="bold" text-anchor="end" fill="#000" stroke="#000" stroke-width="0.3">4</text>
<text x="293" y="749.66" font-family="'Liberation Sans', sans-serif" font-size="9" font-weight="bold" text-anchor="end" fill="#000" stroke="#000" stroke-width="0.3">3</text>
<text x="293" y="768.34" font-family="'Liberation Sans', sans-serif" font-size="9" font-weight="bold" text-anchor="end" fill="#000" stroke="#000" stroke-width="0.3">2</text>
<text x="293" y="787.02" font-family="'Liberation Sans', sans-serif" font-size="9" font-weight="bold" text-anchor="end" fill="#000" stroke="#000" stroke-width="0.3">1</text>
<text x="293" y="805.7" font-family="'Liberation Sans', sans-serif" font-size="9" font-weight="bold" text-anchor="end" fill="#000" stroke="#000" stroke-width="0.3">0</text>
<line x1="296.9" y1="802.5" x2="432.7" y2="802.5" stroke="#000" stroke-width="1.8"/>
<line x1="297.5" y1="802.5" x2="297.5" y2="806.3" stroke="#000" stroke-width="1.8"/>
<line x1="342.5" y1="802.5" x2="342.5" y2="806.3" stroke="#000" stroke-width="1.8"/>
<line x1="387.5" y1="802.5" x2="387.5" y2="806.3" stroke="#000" stroke-width="1.8"/>
<line x1="432.7" y1="799.4" x2="432.7" y2="806.3" stroke="#000" stroke-width="1.8"/>
<line x1="440.8" y1="802.5" x2="477.3" y2="802.5" stroke="#000" stroke-width="1.8"/>
<line x1="440.8" y1="799.4" x2="440.8" y2="806.3" stroke="#000" stroke-width="1.8"/>
<line x1="459.05" y1="802.5" x2="459.05" y2="806.3" stroke="#000" stroke-width="1.8"/>
<line x1="477.3" y1="799.4" x2="477.3" y2="806.3" stroke="#000" stroke-width="1.8"/>
<text x="297.5" y="816.3" font-family="'Liberation Sans', sans-serif" font-size="9" font-weight="bold" text-anchor="middle" fill="#000" stroke="#000" stroke-width="0.3">0</text>
<text x="342.3" y="816.3" font-family="'Liberation Sans', sans-serif" font-size="9" font-weight="bold" text-anchor="middle" fill="#000" stroke="#000" stroke-width="0.3">10</text>
<text x="387.1" y="816.3" font-family="'Liberation Sans', sans-serif" font-size="9" font-weight="bold" text-anchor="middle" fill="#000" stroke="#000" stroke-width="0.3">20</text>
<text x="437.2" y="816.3" font-family="'Liberation Sans', sans-serif" font-size="9" font-weight="bold" text-anchor="end" fill="#000" stroke="#000" stroke-width="0.3">30</text>
<text x="437.4" y="816.3" font-family="'Liberation Sans', sans-serif" font-size="9" font-weight="bold" text-anchor="start" fill="#000" stroke="#000" stroke-width="0.3">40</text>
<text x="459.2" y="816.3" font-family="'Liberation Sans', sans-serif" font-size="9" font-weight="bold" text-anchor="middle" fill="#000" stroke="#000" stroke-width="0.3">50</text>
<text x="477.4" y="816.3" font-family="'Liberation Sans', sans-serif" font-size="9" font-weight="bold" text-anchor="middle" fill="#000" stroke="#000" stroke-width="0.3">60</text>
<text x="387.4" y="828.7" font-family="'Liberation Sans', sans-serif" font-size="7.8" font-weight="bold" text-anchor="middle" fill="#000" textLength="122.2" lengthAdjust="spacingAndGlyphs" stroke="#000" stroke-width="0.3">CD19+CD27+ memory B cells (%)</text>
<text x="385.4" y="724" font-family="'Liberation Serif', serif" font-size="12.6" text-anchor="start" fill="#000" textLength="48.4" lengthAdjust="spacingAndGlyphs" stroke="#000" stroke-width="0.25">P&lt; 0.0001</text>
<circle cx="328.8" cy="678" r="2" fill="#000"/>
<circle cx="315.4" cy="698.5" r="2" fill="#000"/>
<circle cx="335" cy="724.8" r="2" fill="#000"/>
<circle cx="306.2" cy="758" r="2" fill="#000"/>
<circle cx="306.2" cy="772.3" r="2" fill="#000"/>
<circle cx="315.8" cy="775" r="2" fill="#000"/>
<circle cx="315.8" cy="777" r="2" fill="#000"/>
<circle cx="351.9" cy="774.8" r="2" fill="#000"/>
<circle cx="308.1" cy="793.5" r="2" fill="#000"/>
<circle cx="316.3" cy="786.2" r="2" fill="#000"/>
<circle cx="320.2" cy="787.7" r="2" fill="#000"/>
<circle cx="331.2" cy="793.5" r="2" fill="#000"/>
<circle cx="337.9" cy="795.4" r="2" fill="#000"/>
<circle cx="342.3" cy="790.8" r="2" fill="#000"/>
<circle cx="344.2" cy="795.4" r="2" fill="#000"/>
<circle cx="346.6" cy="784" r="2" fill="#000"/>
<circle cx="347.4" cy="788.8" r="2" fill="#000"/>
<circle cx="351.4" cy="796.2" r="2" fill="#000"/>
<circle cx="360.1" cy="792.3" r="2" fill="#000"/>
<circle cx="365" cy="795.2" r="2" fill="#000"/>
<circle cx="374" cy="780.4" r="2" fill="#000"/>
<circle cx="378.5" cy="793.5" r="2" fill="#000"/>
<circle cx="378.5" cy="798.7" r="2" fill="#000"/>
<circle cx="395.8" cy="798.7" r="2" fill="#000"/>
<circle cx="405.4" cy="799.2" r="2" fill="#000"/>
<circle cx="418.5" cy="799.6" r="2" fill="#000"/>
<circle cx="426.2" cy="793.1" r="2" fill="#000"/>
<circle cx="427.6" cy="797.3" r="2" fill="#000"/>
<circle cx="427.6" cy="799.2" r="2" fill="#000"/>
<circle cx="446.9" cy="798.3" r="2" fill="#000"/>
<circle cx="455.6" cy="798.3" r="2" fill="#000"/>
<circle cx="474.2" cy="797.7" r="2" fill="#000"/>
<circle cx="477.3" cy="798.3" r="2" fill="#000"/>
</svg>
</body></html>
